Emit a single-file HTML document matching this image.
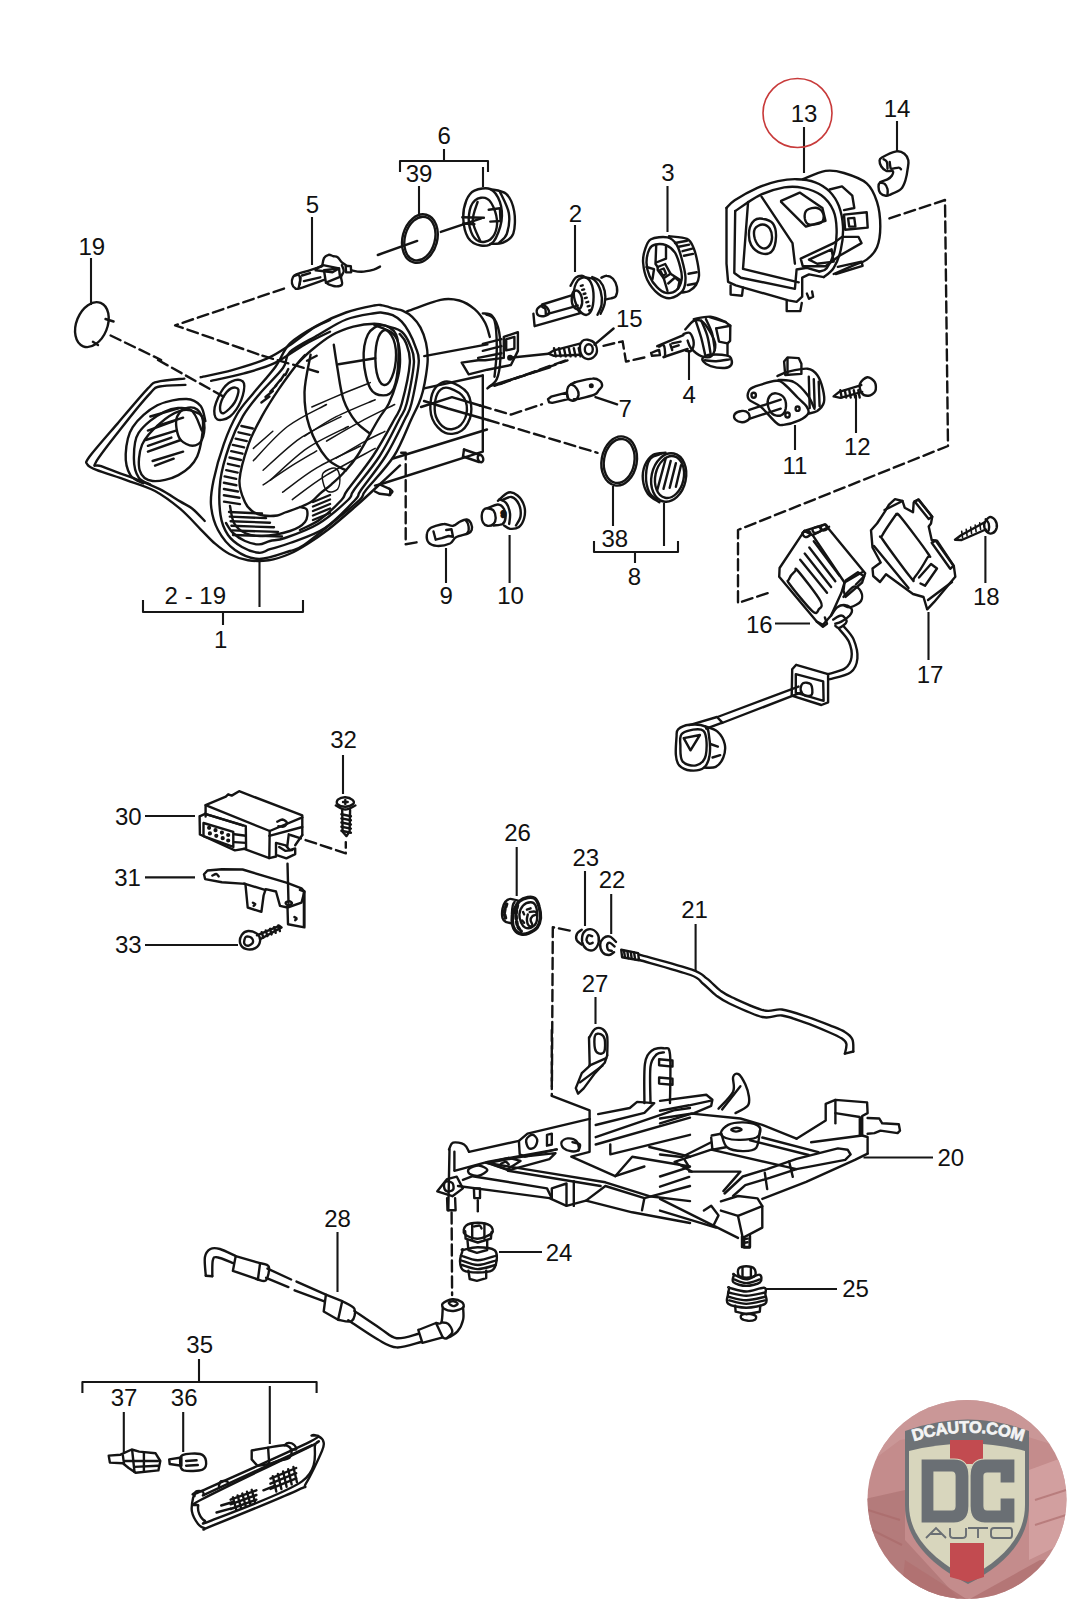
<!DOCTYPE html>
<html><head><meta charset="utf-8"><style>
html,body{margin:0;padding:0;background:#fff;width:1067px;height:1600px;overflow:hidden}
svg{display:block}
text{font-family:"Liberation Sans",sans-serif;font-size:24px;fill:#111}
</style></head><body>
<svg width="1067" height="1600" viewBox="0 0 1067 1600">
<g fill="none" stroke="#161616" stroke-width="2.1" stroke-linecap="butt" stroke-linejoin="round">

<path d="M91,258 V305"/>
<path d="M312,217 V265"/>
<path d="M444,149 V161 M400,172 V161 H488 V172 M483,167 V187"/>
<path d="M419,186 V214"/>
<path d="M575,225 V272"/>
<path d="M667.5,186 V232"/>
<path d="M804,127 V173"/>
<path d="M897,121 V151"/>
<path d="M689,350 V380"/>
<path d="M795,425 V450"/>
<path d="M856,395 V433"/>
<path d="M613,486 V526 M594,541 V552 H678 V541 M635,552 V563 M664,503 V546"/>
<path d="M775,623.5 H810"/>
<path d="M143,600 V612 H303 V600 M223,612 V625 M259.5,561 V607"/>
<path d="M446,548 V583"/>
<path d="M509.6,535 V583"/>
<path d="M985.4,536 V583"/>
<path d="M928.5,612 V660"/>
<path d="M343,755 V794"/>
<path d="M145,816 H195"/>
<path d="M145,877.4 H195"/>
<path d="M145,945 H238"/>
<path d="M516.7,847 V896"/>
<path d="M585,871 V926"/>
<path d="M611.2,894 V934"/>
<path d="M695.6,924 V971"/>
<path d="M595.5,997 V1024"/>
<path d="M863.5,1157.5 H933"/>
<path d="M499,1252 H542"/>
<path d="M766,1289 H837"/>
<path d="M337.5,1232 V1292"/>
<path d="M199,1359 V1382 M82.4,1393 V1382 H316.6 V1393 M123.8,1412 V1452 M183.2,1412 V1452 M269.8,1386 V1444"/>
</g>
<g text-anchor="middle">
<text x="91.8" y="254.5">19</text>
<text x="312.5" y="213">5</text>
<text x="444.2" y="144.3">6</text>
<text x="419" y="182">39</text>
<text x="575.5" y="221.5">2</text>
<text x="668" y="181">3</text>
<text x="804" y="122">13</text>
<text x="897" y="117">14</text>
<text x="629.3" y="327">15</text>
<text x="689.2" y="403">4</text>
<text x="625.3" y="416.6">7</text>
<text x="795" y="474">11</text>
<text x="857.3" y="455.4">12</text>
<text x="614.8" y="546.5">38</text>
<text x="634.5" y="585">8</text>
<text x="759.3" y="633">16</text>
<text x="195.3" y="604.4">2 - 19</text>
<text x="220.8" y="648">1</text>
<text x="446.2" y="604.4">9</text>
<text x="510.6" y="604.4">10</text>
<text x="986.3" y="605.4">18</text>
<text x="930" y="682.5">17</text>
<text x="343.5" y="747.5">32</text>
<text x="128.3" y="824.9">30</text>
<text x="127.5" y="885.9">31</text>
<text x="128.3" y="953.3">33</text>
<text x="517.5" y="841.2">26</text>
<text x="585.8" y="865.6">23</text>
<text x="612" y="888.1">22</text>
<text x="694.6" y="918">21</text>
<text x="595" y="992">27</text>
<text x="950.8" y="1166">20</text>
<text x="559.1" y="1261.4">24</text>
<text x="855.6" y="1297">25</text>
<text x="337.5" y="1227.4">28</text>
<text x="199.7" y="1353.4">35</text>
<text x="124" y="1405.7">37</text>
<text x="184.2" y="1405.7">36</text>
</g>
<g fill="none" stroke="#141414" stroke-width="2.4" stroke-linecap="round" stroke-linejoin="round">
<path d="M184.3,378.6 C179.8,379.1 163.4,380.2 157.3,381.8 C151.3,383.5 154.6,381.5 147.9,388.4 C141.3,395.4 127.3,412.1 117.5,423.6 C107.7,435 94.4,450 89.4,456.8 C84.4,463.7 86.3,462.4 87.5,464.6 C88.7,466.7 89.8,467.3 96.4,469.9 C103,472.6 117.1,476.7 126.9,480.3 C136.6,483.8 146.1,486.3 155,491 C163.8,495.8 172.4,502.3 180,508.7 C187.6,515 194.8,523.4 200.6,529.3 C206.5,535.1 210.2,539.6 215.1,543.7 C219.9,547.8 224,551.3 229.5,554 C235,556.8 241.5,559.2 248,560.2 C254.6,561.2 261.8,561.2 268.7,560.2 C275.5,559.2 282.7,556.8 289.3,554 C295.8,551.3 301.3,547.8 307.8,543.7 C314.4,539.6 320.5,535.5 328.5,529.3 C336.4,523.1 347,513.8 355.3,506.6 C363.5,499.4 370.5,492.9 377.9,486 C385.4,479.1 396.3,468.8 400,465.4"/>
<path d="M185.4,384.9 C181.1,385.2 165.5,385.2 159.7,386.5 C153.8,387.9 156.5,386.3 150.3,393.1 C144,399.8 131.2,415.5 122.2,427.1 C113.1,438.6 99.4,455.7 95.9,462.2 C92.4,468.7 95.2,463.7 101.1,466.2 C107,468.7 121.8,473.6 131.5,477.4 C141.3,481.3 151.6,485.2 159.7,489.2 C167.7,493.2 174.5,498.2 180,501.4 C185.5,504.7 188.2,505.4 192.4,508.7 C196.5,511.9 202.7,519 204.7,521"/>
<path d="M200.7,377.2 C205.9,376 221.2,373.3 232.3,370.1 C243.4,367 257.7,362.7 267.4,358.4 C277.2,354.1 283.1,349.5 290.9,344.4 C298.7,339.2 307.8,331.5 314.3,327.5 C320.8,323.4 327.4,321.2 330,320"/>
<path d="M211.2,380.9 C216.7,379.7 233.5,376.4 244,373.4 C254.6,370.4 264.3,367.9 274.5,363.1 C284.6,358.3 295.7,349.6 304.9,344.4 C314.2,339.1 325.8,333.8 330,331.7"/>
<path d="M244,383.3 C245,386.6 243.5,394.6 241.2,400.1 C238.9,405.7 234,413.3 230,416.5 C225.9,419.7 219.6,420.9 217.1,419.3 C214.5,417.8 213.7,412.3 214.7,407.2 C215.8,402 220,392.9 223.4,388.4 C226.8,383.9 231.7,381.1 235.1,380.2 C238.5,379.3 243,379.9 244,383.3 Z"/>
<path d="M238.4,389.6 C239,391.9 237,398.6 234.6,402.5 C232.3,406.4 226.5,411.8 224.1,413 C221.7,414.2 220.3,412 220.1,409.5 C219.9,407 221.1,401.3 222.9,397.8 C224.8,394.3 228.5,389.8 231.1,388.4 C233.7,387 237.8,387.2 238.4,389.6 Z"/>
<path d="M205.4,421.2 C204.6,418.7 203.8,409.7 200.7,406 C197.5,402.3 193.8,399.1 186.6,399 C179.4,398.8 166.3,400.6 157.3,405.3 C148.3,410 138,418.9 132.7,427.1 C127.4,435.2 126.1,446 125.7,454 C125.3,462 127.4,470.2 130.4,475.1 C133.3,480 141.1,481.9 143.3,483.3"/>
<path d="M201.8,430.6 C199.9,427.1 196.4,412.6 190.1,409.5 C183.9,406.4 172.9,407.9 164.3,411.8 C155.8,415.7 143.7,425.1 138.6,432.9 C133.5,440.7 133.9,451.3 133.9,458.7 C133.9,466.1 135.8,473.1 138.6,477.4 C141.3,481.7 148.3,483.3 150.3,484.5"/>
<path d="M203,421.2 C203.4,428.6 201.3,447.4 197.2,456.4 C193.1,465.3 185.8,471 178.4,475.1 C171,479.2 159.1,481.7 152.6,481 C146.2,480.2 141.5,476.5 139.7,470.4 C138,464.4 138.8,452.4 142.1,444.6 C145.4,436.8 153.2,429.2 159.7,423.6 C166.1,417.9 174.9,412.6 180.7,410.7 C186.6,408.7 191.1,410.1 194.8,411.8 C198.5,413.6 202.6,413.8 203,421.2 Z"/>
<path d="M177.2,416.5 C178.7,413.2 182.1,409.5 185.4,408.3 C188.8,407.2 194,407 197.2,409.5 C200.3,412 203.4,418.5 204.2,423.6 C205,428.6 203.8,436.2 201.8,440 C199.9,443.7 196,445.8 192.5,445.8 C189,445.8 183.4,442.9 180.7,440 C178.1,437 177.1,432.1 176.5,428.2 C175.9,424.3 175.8,419.8 177.2,416.5 Z"/>
<path d="M150.3,416.5 L178.4,408.3"/>
<path d="M147.9,430.6 L173.7,421.2"/>
<path d="M145.6,440 L176.1,430.6"/>
<path d="M147.9,451.7 L180.7,440"/>
<path d="M152.6,461 L183.1,451.7"/>
<path d="M155,465.7 L173.7,458.7"/>
<path d="M157.3,425.9 L183.1,417.7"/>
<path d="M147.9,445.8 L171.4,437.6"/>
<path d="M275.5,366.7 C269.3,375.1 259.4,385.8 253,393.7 C246.6,401.6 242.1,405.6 237.2,414 C232.3,422.4 227.6,433.3 223.7,444.3 C219.8,455.3 215.7,469.9 213.6,480 C211.5,490.1 210.3,496.7 211,505 C211.7,513.3 214,522.5 218,530 C222,537.5 228.2,545.2 235,550 C241.8,554.8 249.8,558.8 259,559 C268.2,559.2 282.5,553.3 290,551 C297.5,548.7 297,549.7 304,545 C311,540.3 322.8,530.5 332,523 C341.2,515.5 353.8,505.5 359.5,500 C365.2,494.5 360.2,497.3 366,490 C371.8,482.7 386.5,467.7 394,456 C401.5,444.3 406.9,428.7 411,420 C415.1,411.3 416.7,408.4 418.7,403.7 C420.7,398.9 421.6,396.2 422.8,391.5 C424,386.8 425.2,380.7 426,375.3 C426.8,369.9 427.7,364.4 427.7,359 C427.7,353.6 427.2,348.1 426,342.8 C424.8,337.5 422.7,331.7 420.4,327.4 C418.1,323.1 415.2,319.6 412.2,316.8 C409.2,314 405.5,312.1 402.5,310.7 C399.5,309.3 397.8,309.6 394.4,308.7 C391,307.8 385.6,305.9 382.2,305.4 C378.8,304.9 380,304.3 374,305.5 C368,306.7 355.3,309.2 346,312.5 C336.7,315.8 327.3,319.9 318,325 C308.7,330.1 297.1,336.4 290,343.4 C282.9,350.3 281.7,358.3 275.5,366.7 Z"/>
<path d="M283,368 C277.9,375 266.4,385.7 259.7,393.7 C253,401.7 247.9,407.6 242.9,416.2 C237.9,424.8 233.2,434.9 229.4,445.5 C225.7,456.1 221.9,468.4 220.4,480 C218.9,491.6 219.2,505.8 220.5,515 C221.8,524.2 224.4,529.7 228,535 C231.6,540.3 236.8,544 242,547 C247.2,550 254.3,552.4 259,552.8 C263.7,553.2 264.8,550.8 270,549.2 C275.2,547.6 280.8,546.5 290,543 C299.2,539.5 314.2,535.2 325,528 C335.8,520.8 349,506.3 355,500 C361,493.7 355.9,497.3 361,490 C366.1,482.7 378.4,467.7 385.7,456 C392.9,444.3 400.2,428.7 404.5,420 C408.8,411.3 409,413.2 411.4,403.7 C413.8,394.2 418,372.5 418.7,363 C419.4,353.5 417.1,352 415.5,346.9 C413.9,341.8 411.3,336.4 409,332.2 C406.7,328 404.4,324.5 401.7,321.7 C399,318.9 395.9,316.7 392.7,315.2 C389.4,313.7 385.2,313 382.2,312.7 C379.1,312.4 380.4,312.1 374.4,313.2 C368.4,314.3 355.6,315.9 346.2,319.5 C336.8,323.1 327.5,329.6 318.1,335 C308.7,340.4 295.9,346.4 290,351.9 C284.1,357.4 288.1,361 283,368 Z"/>
<path d="M226,523 C227.2,524.7 229.8,530 233,533 C236.2,536 240.7,539.1 245,541 C249.3,542.9 254.8,544.4 259,544.4 C263.2,544.4 265.7,542.1 270,541 C274.3,539.9 277,540.8 285,538 C293,535.2 307.5,530.3 318,524 C328.5,517.7 342,505.7 348,500 C354,494.3 348.7,497.3 354,490 C359.3,482.7 372.2,467.7 379.7,456 C387.2,444.3 394.5,428.7 399,420 C403.5,411.3 404.1,413.2 406.6,403.7 C409.1,394.2 413.3,372.8 413.9,363 C414.5,353.2 412,350.2 410,345 C408,339.8 405.6,335.1 402,332 C398.4,328.9 393,328 388.4,326.6 C383.8,325.2 380.2,323.7 374.4,323.7 C368.5,323.7 360.3,324.7 353.3,326.6 C346.3,328.5 339.2,331 332.2,335 C325.2,339 317.1,345.5 311.1,350.5 C305.1,355.5 298.5,362.6 296,365"/>
<path d="M300,530 C303.3,528.2 313.1,524.5 320,519.5 C326.9,514.5 336.9,504.9 341.5,500 C346.1,495.1 342.2,497.3 347.5,490 C352.8,482.7 365.2,467.7 373,456 C380.8,444.3 389.2,428.7 394,420 C398.8,411.3 399.1,413.2 401.7,403.7 C404.3,394.2 409.1,373.1 409.8,363 C410.5,352.9 407.7,347.8 406,343 C404.3,338.2 400.8,335.5 399.7,334"/>
<path d="M305,355 C303.6,356.6 301.2,358.8 296.8,364.5 C292.4,370.2 284.6,380.6 278.8,389.2 C273,397.8 267.1,407 262,416.2 C256.9,425.4 252.2,433.7 248.5,444.3 C244.8,454.9 240.1,470.4 239.5,480 C238.9,489.6 242.7,496.9 245,502.2 C247.3,507.5 250.3,509.8 253.4,512 C256.4,514.2 259.3,514.9 263.3,515.5 C267.3,516.1 273.7,516 277.3,515.5 C280.9,515 281,514 285,512.5 C289,511 297,508.4 301.5,506.5 C306,504.6 308.9,503.3 312,501.2 C315.1,499.1 316.8,496.4 320,493.6 C323.2,490.8 327.3,488.1 331.2,484.6 C335.1,481.1 339.3,477.6 343.6,472.8 C347.9,468 351.5,464.8 357.2,456 C362.9,447.2 372.8,428.7 378,420 C383.2,411.3 385.6,410.1 388.7,403.7 C391.8,397.3 394.9,388.6 396.8,381.8 C398.7,375 399.8,369.6 400,363 C400.2,356.4 399.5,347.1 398,342 C396.5,336.9 395.1,335 391.2,332.2 C387.3,329.4 377.2,326.2 374.4,325"/>
<path d="M230,506 C230.7,508.8 231.5,518.5 234,523 C236.5,527.5 240.3,530.8 245,533 C249.7,535.2 254.5,536.3 262,536 C269.5,535.7 282.8,533.3 290,531 C297.2,528.7 302.2,525.5 305,522 C307.8,518.5 307.8,512.5 307,510 C306.2,507.5 301.2,507.5 300,507"/>
<path d="M241.4,426 L252.8,428.5"/>
<path d="M238.5,432.3 L249.8,434.8"/>
<path d="M235.6,438.6 L246.8,441.1"/>
<path d="M232.8,444.9 L244.1,447.4"/>
<path d="M231.2,451.2 L242.5,453.7"/>
<path d="M229.5,457.5 L240.9,460"/>
<path d="M227.9,463.8 L239.3,466.3"/>
<path d="M226.2,470.1 L237.7,472.6"/>
<path d="M224.6,476.4 L236.2,478.9"/>
<path d="M223.9,482.7 L236.4,485.2"/>
<path d="M223.9,489 L238,491.5"/>
<path d="M223.9,495.3 L239.5,497.8"/>
<path d="M224,501.6 L240,504.1"/>
<path d="M285.4,375 L288.3,369"/>
<path d="M280.4,380.5 L284.3,374.5"/>
<path d="M275.4,386 L280.3,380"/>
<path d="M270.4,391.5 L276.3,385.5"/>
<path d="M265.5,397 L272.8,391"/>
<path d="M261.4,402.5 L269.4,396.5"/>
<path d="M229,512 L262,513.5"/>
<path d="M229.8,516.6 L266,518.1"/>
<path d="M230.6,521.2 L270,522.7"/>
<path d="M231.4,525.8 L274,527.3"/>
<path d="M232.2,530.4 L278,531.9"/>
<path d="M233,535 L282,536.5"/>
<path d="M313,502 L330,495"/>
<path d="M313,506.5 L330,499.5"/>
<path d="M313,511 L330,504"/>
<path d="M313,515.5 L330,508.5"/>
<path d="M313,520 L330,513"/>
<path d="M310.6,354.6 C309.6,360.9 304.7,380.4 304.5,392.3 C304.3,404.3 305.7,415.5 309.4,426.5 C313.1,437.4 320.4,450.8 326.5,458.1 C332.5,465.4 342.7,468.3 346,470.3"/>
<path d="M333.8,344.8 C334.4,348.7 335.8,358.8 337.4,368 C339,377.1 340.5,390.7 343.5,399.7 C346.6,408.6 351.2,415.9 355.7,421.6 C360.2,427.3 367.9,431.7 370.3,433.8"/>
<path d="M338.6,364.3 L375.2,358.2"/>
<path d="M307,360.7 L316.7,355.8"/>
<path d="M382,325.1 C386.7,325.1 393.3,328.7 396.1,334.5 C398.8,340.4 398.8,351.3 398.4,360.3 C398,369.3 396.3,382.5 393.7,388.4 C391.2,394.3 387.1,395.4 383.2,395.4 C379.3,395.4 373.5,394.3 370.3,388.4 C367,382.5 364.1,369.3 363.7,360.3 C363.3,351.3 364.9,340.4 367.9,334.5 C371,328.7 377.3,325.1 382,325.1 Z"/>
<path d="M386.7,330.3 C389.4,331.5 393.5,337.7 394.9,343.9 C396.3,350.1 396.1,360.7 394.9,367.3 C393.7,374 390.4,381.4 387.9,383.7 C385.3,386.1 381.7,385.3 379.7,381.4 C377.6,377.5 375.6,367.7 375.4,360.3 C375.2,352.9 376.6,341.9 378.5,336.9 C380.4,331.9 384,329.1 386.7,330.3 Z"/>
<path d="M406.6,311.6 C412.3,309.6 431.8,301.7 440.6,299.8 C449.4,298 453.7,299 459.3,300.5 C465,302.1 470.3,305.5 474.6,309.2 C478.9,312.9 482.6,318.2 485.1,322.8 C487.6,327.4 489,334.5 489.8,336.9"/>
<path d="M482.8,313.4 C484.3,313.8 489.4,312.6 492.1,315.8 C494.9,318.9 497.8,324.8 499.2,332.2 C500.5,339.6 500.7,352.5 500.3,360.3 C499.9,368.1 499,374.3 496.8,379 C494.7,383.7 489,386.8 487.4,388.4"/>
<path d="M486.3,314.6 C487.6,315.6 492.7,314.8 494.5,320.5 C496.2,326.1 496.8,339.2 496.8,348.6 C496.8,357.9 494.9,372 494.5,376.7"/>
<path d="M424.2,356.1 L487.4,344.4"/>
<path d="M424.2,388.4 L482.8,375.5"/>
<path d="M482.8,375.5 L482.8,451.7 L379.7,484.5"/>
<path d="M393,458.5 L487,429.5"/>
<path d="M489.8,386.1 L550,367.3"/>
<path d="M461.7,362.6 L478.1,360.3 L485.1,360.3 L503.8,357.9 L503.8,336.9 L517.9,332.2 L517.9,350.9 L510.9,365 L487.4,369.7 L468.7,374.3 L461.7,362.6 Z"/>
<path d="M506.2,339.2 L514.4,336.9 L514.4,348.6 L506.2,350.4 Z"/>
<path d="M482.8,343.9 L501.5,339.2"/>
<path d="M482.8,350.9 L501.5,346.2"/>
<path d="M478.1,357.9 L501.5,353.3"/>
<path d="M450,381.8 C454.8,383.2 464,387.7 467.5,393.1 C471,398.5 472,407.9 471,414.2 C470.1,420.4 466,427.5 461.7,430.6 C457.4,433.7 450.1,434.9 445.3,432.9 C440.4,431 434.7,424.7 432.4,418.9 C430,413 430.2,403.4 431.2,397.8 C432.2,392.1 435.1,387.5 438.2,384.9 C441.4,382.2 445.1,380.5 450,381.8 Z"/>
<path d="M450,388.4 C453.9,389.8 461.3,393.5 464,397.8 C466.7,402.1 467.3,409.3 466.4,414.2 C465.4,419.1 461.7,424.7 458.2,427.1 C454.6,429.4 449,430 445.3,428.2 C441.6,426.5 437.5,421.2 435.9,416.5 C434.3,411.8 434.6,404.6 435.4,400.1 C436.2,395.6 438.2,391.5 440.6,389.6 C443,387.6 446,387 450,388.4 Z"/>
<path d="M464,449.5 L480,455"/>
<path d="M463,456.5 L479,462"/>
<path d="M464,449.5 L463,456.5"/>
<path d="M375,485.6 L379.7,484.5 L390.2,489.2 L390.2,495 L379.7,493.8 L375,491.5"/>
<path d="M389,488.7 C389.6,489.2 392.5,490.4 392.5,491.5 C392.5,492.6 389.6,494.6 389,495.2"/>
<ellipse cx="480.5" cy="458.5" rx="2.6" ry="3.8" transform="rotate(-20 480.5 458.5)"/>
<g stroke-width="1.5"><path d="M253.4,460.6 C259,454.9 275.3,435.8 287.5,426.5 C299.7,417.1 320,408.2 326.5,404.5"/>
<path d="M263.1,470.3 C269.2,465 286.7,447.6 299.7,438.6 C312.6,429.7 334.2,420.4 341.1,416.7"/>
<path d="M270.4,480.1 C276.5,474.8 294,457.3 307,448.4 C320,439.5 341.5,430.1 348.4,426.5"/>
<path d="M263.1,484.9 C268,481.7 283.4,471.1 292.3,465.4 C301.3,459.8 312.6,453.3 316.7,450.8"/>
<path d="M282.6,492.2 C288.3,488.2 303.7,475.6 316.7,467.9 C329.7,460.2 353.3,449.6 360.6,446"/>
<path d="M292.3,499.6 C298,495.5 312.6,483.7 326.5,475.2 C340.3,466.7 367.1,452.9 375.2,448.4"/>
<path d="M304.5,436.2 C309.8,433 324.4,422.8 336.2,416.7 C348,410.6 368.7,402.5 375.2,399.7"/>
<path d="M326.5,441.1 C332.1,437.8 349.2,427.7 360.6,421.6 C371.9,415.5 389,407.4 394.7,404.5"/>
<path d="M336.2,458.1 C341.1,455.3 357.3,445.5 365.4,441.1 C373.6,436.6 381.7,433 384.9,431.3"/>
<path d="M311.8,407 C317.5,404.5 336.2,396.4 346,392.3 C355.7,388.3 366.3,384.2 370.3,382.6"/>
<path d="M253.4,448.4 L272.8,431.3"/>
<path d="M323.4,472.8 C325.5,470.4 332.4,467.3 335.1,468.1 C337.9,468.9 339.4,473.9 339.8,477.4 C340.2,481 339.4,486.8 337.5,489.2 C335.5,491.5 330.5,492.7 328.1,491.5 C325.7,490.3 323.7,485.3 323,482.1 C322.2,479 321.4,475.1 323.4,472.8 Z"/></g>
<path d="M105.5,319 L113.6,321.5"/>
<path d="M92.9,341.8 L98,345.1"/>
<path d="M377.8,255 L417.2,240.9"/>
<path d="M440.8,231.9 L481.3,218.4"/>
<path d="M474.4,190.7 C478.4,188.9 486.1,187.3 490.3,189.1 C494.6,191 498,196.6 499.9,201.9 C501.7,207.2 502.5,214.3 501.5,221 C500.4,227.6 496.9,237.6 493.5,241.7 C490,245.8 485,246.2 480.7,245.5 C476.5,244.8 470.9,242.2 468,237.6 C465.1,232.9 463.5,224 463.2,217.8 C463,211.6 464.6,204.8 466.4,200.3 C468.3,195.8 470.4,192.6 474.4,190.7 Z"/>
<path d="M475,200.3 C478,197.6 483.8,196.8 487.1,198.7 C490.5,200.5 493.5,206.6 495.1,211.4 C496.7,216.2 497.5,222.7 496.7,227.4 C495.9,232 493.2,237.1 490.3,239.5 C487.4,241.8 482.3,242.6 479.2,241.4 C476,240.2 472.9,236.6 471.2,232.1 C469.5,227.7 468.3,219.9 469,214.6 C469.6,209.3 472,202.9 475,200.3 Z"/>
<path d="M490.3,189.1 C493,189.9 502.3,190.2 506.2,193.9 C510.2,197.6 513,204.8 514.2,211.4 C515.4,218.1 515.1,228.5 513.3,233.7 C511.4,238.9 506.9,241 503.1,242.7 C499.2,244.4 492.4,243.7 490.3,243.9"/>
<path d="M499.9,191.7 C501.4,195.2 507.6,206 508.8,213 C510,220 508.5,228.8 506.9,233.7 C505.3,238.7 500.5,241.2 499.2,242.7"/>
<path d="M477.6,201.9 C476.8,205.1 472.4,214.5 472.8,221 C473.2,227.5 478.9,237.4 480.1,240.7"/>
<path d="M488.7,209.8 L499.9,208.2 L500.5,221 L490.3,221.6"/>
<path d="M462.3,217.2 L483.9,217.8"/>
<path d="M463.2,223.5 L474.4,224.2"/>
<path d="M321.2,266.7 C319.1,267.4 312.3,269.5 308.1,270.8 C303.9,272.1 298.5,273.4 295.9,274.5 C293.4,275.7 293.3,276.3 292.7,277.8 C292,279.3 291.6,281.7 292,283.4 C292.4,285.1 293.7,287.3 295,288.1 C296.3,288.9 294.8,289.7 299.7,288.3 C304.5,286.9 320,281.3 324,279.9"/>
<path d="M294.1,275.9 C294.8,275.8 297.7,274.2 298.7,275 C299.8,275.8 300.1,278.5 300.1,280.6 C300.1,282.7 299,286.5 298.7,287.6"/>
<path d="M302,275.5 L310,273.1"/>
<path d="M303.9,281.1 L320.3,277.3"/>
<path d="M300.6,277.3 L299.7,284.4"/>
<path d="M315.6,268.9 L323.1,265.1 L339,268.4 L332.5,272.2 L315.6,270.3"/>
<path d="M324,270.3 L339,268.4 L340,276.9 L325.9,282.7 L324,270.3"/>
<path d="M322.2,266.1 C322.5,264.8 323,260 324,258.1 C325.1,256.2 327.2,255.2 328.7,254.8 C330.3,254.5 331.9,255.9 333.4,256.2 C334.9,256.6 336.2,256.2 337.6,257.2 C339,258.2 340.5,261.1 341.9,262.3 C343.2,263.6 345,264.4 345.6,264.9"/>
<path d="M341.9,265.1 C342.2,266.2 343.9,269.3 343.7,271.2 C343.6,273.2 341.4,274.7 341.1,276.9 C340.8,279.1 342.9,282.8 342,284.4 C341.2,286 338.5,286.4 336.2,286.4 C334,286.4 330.4,285 328.7,284.4 C327.1,283.7 326.8,283 326.4,282.7"/>
<path d="M345.6,265.8 L350.8,266.1 L351.2,272.2 L346.1,272.4 Z"/>
<path d="M351.2,270.3 C352.9,270.6 357.8,271.9 361.5,271.8 C365.3,271.7 370.6,270.4 373.7,269.6 C376.8,268.7 379,267.1 380,266.6"/>
<path d="M533.4,313.6 L534.6,326.2 L580.3,313.1 L577.7,309.5"/>
<path d="M542.2,304.5 L571.5,295.3"/>
<path d="M547.8,313.8 L577.7,305.6"/>
<path d="M537,309.5 C537.7,307.9 540.5,305.7 542.2,305.4 C543.8,305.1 545.9,306.3 547,307.6 C548.1,309 549.4,312.2 548.9,313.6 C548.3,315 545.5,315.9 543.7,316.2 C541.9,316.4 539.2,316.3 538,315.2 C536.9,314 536.3,311.1 537,309.5 Z"/>
<path d="M542.2,306.9 C542.7,307.3 544.7,307.8 545.3,309 C545.9,310.2 545.7,313.3 545.8,314.1"/>
<path d="M572.6,293 C573.5,290.9 576.2,290.1 577.7,290.9 C579.3,291.8 581.3,295.4 581.9,298.1 C582.4,300.9 581.8,305.6 580.8,307.4 C579.9,309.2 577.6,309.7 576.2,309 C574.7,308.3 572.7,306 572.1,303.3 C571.5,300.6 571.6,295.1 572.6,293 Z"/>
<path d="M577.7,280.6 C579.8,277.9 583.6,276.9 586,277.7 C588.4,278.6 590.9,281.9 592.2,285.8 C593.4,289.7 593.7,296.8 593.4,301.2 C593.1,305.7 591.7,310.4 590.1,312.6 C588.5,314.8 586,315.3 583.9,314.4 C581.9,313.6 579.4,311 577.7,307.6 C576,304.2 573.8,298.5 573.8,294 C573.8,289.5 575.7,283.3 577.7,280.6 Z"/>
<path d="M580.8,285.8 L582.7,285.3"/>
<path d="M582.2,289.9 L584.1,289.4"/>
<path d="M583.6,294 L585.4,293.5"/>
<path d="M584.9,298.1 L586.8,297.6"/>
<path d="M586.3,302.3 L588.2,301.8"/>
<path d="M587.7,306.4 L589.6,305.9"/>
<path d="M589.1,310.5 L590.9,310"/>
<path d="M587,277.7 C588.2,278.1 592.2,277.6 594.4,279.8 C596.7,282 599.4,286.8 600.6,290.9 C601.8,295 602.2,300.3 601.6,304.3 C601.1,308.3 598.2,313.1 597.5,314.8"/>
<path d="M592.2,277 C593.4,277.6 597.5,278.5 599.6,280.8 C601.7,283.1 603.9,287.2 604.7,290.9 C605.6,294.7 605.4,299.5 604.7,303.3 C604.1,307.1 601.3,312.1 600.6,313.8"/>
<path d="M601.4,277.7 C602.3,277.4 604.9,275.5 606.8,275.7 C608.7,275.8 611.3,276.9 613,278.8 C614.7,280.7 616.4,284.1 616.9,287 C617.4,289.9 616.9,294.2 615.9,296.1 C614.9,298 612.6,297.8 610.9,298.4 C609.2,298.9 606.6,299.2 605.8,299.4"/>
<path d="M570.5,285.8 C571.4,284.4 573.8,279.4 575.7,277.7 C577.6,276 580.1,275.7 581.9,275.7 C583.6,275.7 585.3,277.4 586,277.7"/>
<path d="M651,239.2 C654.7,237.2 663.2,236.5 667.5,237.4 C671.7,238.2 674.1,240.9 676.5,244.5 C678.9,248.1 680.2,253.2 681.7,258.7 C683.2,264.2 685.4,272.1 685.5,277.5 C685.6,282.9 685,287.5 682.5,291 C680,294.4 674.5,297.6 670.5,298.1 C666.5,298.6 662.4,297 658.5,294 C654.6,290.9 649.8,285 647.2,279.7 C644.7,274.5 643.5,267.5 643.1,262.5 C642.7,257.5 643.7,253.6 645,249.7 C646.3,245.9 647.2,241.3 651,239.2 Z"/>
<path d="M655.5,244.5 C658.2,243.9 662.7,243.9 666,245.2 C669.2,246.6 672.6,249.1 675,252.7 C677.4,256.4 679.1,262.6 680.2,267 C681.4,271.4 682.4,275.1 681.7,279 C681.1,282.9 679.1,287.9 676.5,290.2 C673.9,292.5 669.2,293.4 666,292.9 C662.7,292.4 659.7,290 657,287.2 C654.2,284.4 651.2,280.1 649.5,276 C647.7,271.9 646.5,267 646.5,262.5 C646.5,258 648,252 649.5,249 C651,246 652.7,245.1 655.5,244.5 Z"/>
<path d="M669,236.2 C672,236.7 682.9,236.9 687,238.9 C691.1,240.9 692,244.3 693.7,248.2 C695.5,252.2 696.6,257.9 697.5,262.5 C698.4,267.1 699.2,272.2 699,276 C698.7,279.7 697.6,282.5 696,285 C694.4,287.5 691.5,289.7 689.2,291 C687,292.2 683.6,292.2 682.5,292.5"/>
<path d="M675,243 L687,240.7"/>
<path d="M678.7,246.7 L689.2,244.6"/>
<path d="M682.5,251.2 L692.2,248.6"/>
<path d="M684,255.7 L693,253.9"/>
<path d="M688.5,273.7 L696.7,272.2"/>
<path d="M687.7,285 L696,283.5"/>
<path d="M657.7,267 L665.2,264 L670.5,273.7 L663.7,278.2 L657.7,270 Z"/>
<path d="M660,270 L663.7,268.5 L666,273.7 L663,276 Z"/>
<path d="M656.2,245.2 L655.5,264 L657.7,267"/>
<path d="M666,246 L666,258.7 L656.2,262.5"/>
<path d="M646.5,267 L654,269.2 L652.5,279"/>
<path d="M670.5,273.7 L681,280.5"/>
<path d="M663.7,278.2 L667.5,291"/>
<path d="M668.2,283.5 L675,277.5 L679.5,281.2 L678,288.7"/>
<path d="M587.7,339.7 C589.9,340.1 593.4,341.4 594.9,343.6 C596.4,345.7 597.4,350 596.7,352.6 C596.1,355.1 593.3,357.9 591.1,358.6 C588.8,359.4 585.1,358.8 583.2,357.1 C581.3,355.3 580,350.7 579.9,348.1 C579.7,345.4 580.8,342.7 582.1,341.3 C583.4,339.9 585.6,339.4 587.7,339.7 Z"/>
<path d="M579.9,343.6 L554,350.3 L548.4,353.7 L554,355.9 L580.5,354.8"/>
<path d="M554,348.1 L555.8,356.4"/>
<path d="M558.9,348.1 L560.7,356.4"/>
<path d="M563.9,348.1 L565.7,356.4"/>
<path d="M568.8,348.1 L570.6,356.4"/>
<path d="M573.8,348.1 L575.6,356.4"/>
<path d="M578.7,348.1 L580.5,356.4"/>
<path d="M613.6,328.5 L594.5,344.7"/>
<path d="M510.1,357.7 L548.4,353.7"/>
<path d="M657.2,346.2 L683.4,335.2"/>
<path d="M663.7,357 L687.6,349"/>
<path d="M659.1,346.7 C659.8,346.5 662.7,343.8 663.7,345.3 C664.8,346.8 665.1,353.6 665.1,355.6 C665.1,357.6 664,356.9 663.7,357.1"/>
<path d="M651.1,353 L656.7,350.7 L659.1,350 L660,355.1 L652,355.8 L651.1,353"/>
<path d="M670.3,344.4 L672.2,350"/>
<path d="M672.2,343.4 L680.6,341.6"/>
<path d="M673.1,347.2 L678.7,345.3"/>
<path d="M683.4,334.1 C684.5,333.9 688.3,331.7 690,333.1 C691.7,334.5 693.6,339.5 693.7,342.5 C693.9,345.5 692.2,349.5 690.9,350.9 C689.7,352.3 687,350.9 686.2,350.9"/>
<path d="M685.3,329.4 C686.7,328 690.9,322.3 693.7,320.9 C696.5,319.6 699.5,319.7 702.2,321.4 C704.8,323.1 707.5,327.4 709.7,331.2 C711.9,335.1 715,340.2 715.3,344.4 C715.6,348.5 713.9,354.1 711.5,356.1 C709.2,358 704.7,357.4 701.2,356.1 C697.8,354.8 693.2,350.7 690.9,348.1 C688.7,345.5 688.2,341.9 687.6,340.6"/>
<path d="M693.7,319.1 C696.5,318.7 705.3,316.2 710.6,316.7 C715.9,317.2 723.1,321 725.6,321.9"/>
<path d="M696.1,321.9 C696.9,324.5 699.7,332.4 701.2,337.8 C702.7,343.2 704.4,351.5 705,354.2"/>
<path d="M701.2,320.5 C702.2,323 705.8,330.4 707.3,335.9 C708.9,341.5 710.1,350.8 710.6,353.7"/>
<path d="M705.9,319.1 C706.9,321.4 710.5,328 712,333.1 C713.5,338.3 714.4,347.2 714.8,350"/>
<path d="M709.7,317.2 L725.6,322.1 L730.3,325.8 L730.1,340.8 L727.5,343.4 L727.5,355.6"/>
<path d="M716.2,328.4 L730.3,325.8"/>
<path d="M716.2,328.4 L719,341.6 L727.5,343.4"/>
<path d="M703.1,357.5 C704.3,356.3 706.5,355 710.6,354.7 C714.7,354.4 724,354.9 727.5,355.6 C730.9,356.3 730.6,357.3 731.2,358.9 C731.8,360.5 732.3,363.5 731.2,365 C730.1,366.5 728.1,367.8 724.7,368 C721.2,368.2 714.1,367.2 710.6,366.1 C707.1,365.1 704.8,363.1 703.6,361.7 C702.3,360.3 701.9,358.7 703.1,357.5 Z"/>
<path d="M705,360.3 C706.9,360.5 712.2,361.4 716.2,361.2 C720.3,361.1 727.2,359.7 729.3,359.4"/>
<ellipse cx="91.9" cy="324.6" rx="15.5" ry="23.4" transform="rotate(22 91.9 324.6)"/>
<ellipse cx="419.9" cy="238.6" rx="17.3" ry="24.7" transform="rotate(15 419.9 238.6)"/>
<ellipse cx="419.9" cy="238.6" rx="15" ry="22.3" transform="rotate(15 419.9 238.6)"/>
<ellipse cx="588.8" cy="349.2" rx="4" ry="5" transform="rotate(0 588.8 349.2)"/>
<circle cx="510.1" cy="357.7" r="1.8" fill="#141414"/>
<g stroke-dasharray="11 5"><path d="M110.6,335.5 L161.2,360"/>
<path d="M158,360 L226,398"/>
<path d="M284,288.6 L175.1,325.3 L262.4,355.7"/>
<path d="M262.4,355.7 L318,372"/>
<path d="M603.5,345.8 L622.6,341.3 L626,361.6 L646.2,357.1"/>
<path d="M500,384 L567.5,360.4"/></g>
<path d="M726.5,208 C727.9,206.7 729.6,203.6 734.7,200.2 C739.9,196.8 750.2,191 757.4,187.8 C764.6,184.7 771.5,182.7 778,181.2 C784.6,179.8 790.4,179 796.6,179.2 C802.8,179.3 809.7,180.2 815.2,182.3 C820.7,184.3 825.6,187.6 829.6,191.5 C833.5,195.5 836.6,200.1 838.9,206 C841.1,211.8 842.6,219.4 843,226.6 C843.3,233.8 842.5,242.4 840.9,249.3 C839.4,256.2 836.6,263.2 833.7,267.8 C830.9,272.5 825.5,275.6 823.8,277.1"/>
<path d="M823.8,277.1 L809,274.4 L802.2,277.7 L802.2,296.7 L796.6,301.9 L788.4,300.4 L735.8,285.4 L728.1,281.9 L726.5,263.7 L726.5,208"/>
<path d="M735.2,211.1 C739.2,208.5 751.3,199.2 759.5,195.3 C767.7,191.3 777,188.7 784.2,187.4 C791.4,186.2 796.6,186.5 802.8,187.8 C809,189.1 816.3,191.5 821.3,195.3 C826.4,199 830.8,204.9 833.3,210.5 C835.8,216.2 836.4,222.3 836.6,229.1 C836.8,235.9 836.2,244.8 834.5,251.3 C832.9,257.9 829.2,264.9 826.7,268.2 C824.2,271.6 820.5,271 819.3,271.5"/>
<path d="M819.3,271.5 L806.9,267.8 L796.6,269.5 L794.9,288.9 L740.9,277.7 L734.3,273 L735.2,211.1"/>
<path d="M802.8,179.2 C806.6,177.8 818.6,172 825.5,170.9 C832.3,169.9 837.1,170.9 844,173 C850.9,175.1 861.2,178.5 866.7,183.3 C872.2,188.1 874.7,194.6 877,201.9 C879.3,209.1 880.3,219 880.3,226.6 C880.3,234.2 879.3,241.7 877,247.2 C874.7,252.7 870.8,256.5 866.7,259.6 C862.6,262.7 857.8,263.4 852.3,265.8 C846.8,268.2 836.8,272.6 833.7,274"/>
<path d="M837.8,266.8 L861.5,261.6 L862.6,265.8 L835.8,274"/>
<path d="M730.6,285.4 L730.6,294.6 L742,295.7 L743,287.4"/>
<path d="M786.7,300.8 L786.7,311.1 L800.3,311.1 L801.8,302.9"/>
<path d="M806.9,293.6 L809,298.8 L813.1,296.7 L812.1,291.5"/>
<path d="M762.6,218.8 C765.7,219.3 770.7,220.5 772.9,223.5 C775.1,226.5 776.2,232.3 776,236.9 C775.8,241.5 774.3,248.6 771.9,251.3 C769.5,254.1 765,254.4 761.5,253.4 C758.1,252.4 753.3,248.9 751.2,245.2 C749.2,241.4 748.7,234.8 749.2,230.7 C749.7,226.6 752.1,222.4 754.3,220.4 C756.6,218.4 759.5,218.2 762.6,218.8 Z"/>
<path d="M762.6,224.5 C765.1,224.5 768.2,226.3 769.8,228.7 C771.3,231.1 772.2,235.9 771.9,239 C771.5,242.1 769.6,245.8 767.7,247.2 C765.8,248.6 762.6,248.6 760.5,247.2 C758.4,245.8 755.9,242.1 754.9,239 C754,235.9 753.7,231.1 754.9,228.7 C756.2,226.3 760.1,224.5 762.6,224.5 Z"/>
<path d="M748.1,201.9 L743,268.9 L798.7,282.3"/>
<path d="M761.5,196.7 L792.5,243.1 L794.9,263.7"/>
<path d="M781.1,200.8 L799.7,192.6 L822.4,208 L825.5,220.8 L805.9,226.6 L781.1,201.9 Z"/>
<path d="M806.9,210.1 C809,208.4 814.5,207.4 817.2,208 C820,208.7 822.7,211.8 823.4,214.2 C824.1,216.6 823.7,220.8 821.3,222.5 C818.9,224.2 811.7,225.2 809,224.5 C806.2,223.8 805.2,220.8 804.8,218.4 C804.5,215.9 804.8,211.8 806.9,210.1 Z"/>
<path d="M829.6,189.5 L842,186.4 L852.3,195.7 L854.3,208 L844,210.1"/>
<path d="M844,214.6 L866.7,212.2 L867.7,227.6 L845.1,229.7 Z"/>
<path d="M848.1,218.4 L854.3,217.9 L855.4,226.6 L849.2,226.6 Z"/>
<path d="M800.7,258.6 L833.7,243.1 L842,236.9 L858.5,236.9 L861.5,243.1 L839.9,255.5 L825.5,266.2 L802.8,266.2 Z"/>
<path d="M809,259.6 L831.6,249.3 L833.7,261.6 L817.2,263.7 Z"/>
<path d="M881.9,157.5 C884.7,155.9 892.7,152.1 896.5,151.4 C900.2,150.8 902.4,152.2 904.4,153.7 C906.3,155.1 907.7,157.8 908.3,160.3 C908.9,162.8 908.2,165.5 907.7,168.7 C907.3,172 906.6,176.6 905.5,180 C904.4,183.4 903.5,186.5 901,189 C898.5,191.4 892.8,193.5 890.3,194.6 C887.8,195.7 887.5,196 885.8,195.7 C884.1,195.4 881.4,194.4 880.2,192.9 C879,191.4 878.5,188.5 878.5,186.7 C878.5,185 878.7,183.5 880.2,182.2 C881.7,181 885.5,180.5 887.5,179.4 C889.5,178.3 891.1,176.9 892,175.5 C892.8,174.1 893.5,171.7 892.6,171 C891.6,170.2 888.2,171.7 886.4,171 C884.5,170.2 882.4,168.2 881.3,166.5 C880.2,164.8 879.5,162.4 879.6,160.9 C879.7,159.4 879.1,159.1 881.9,157.5 Z"/>
<path d="M883.6,159.2 C884.1,159.6 886.3,160.4 886.9,162 C887.6,163.6 887.4,167.6 887.5,168.7"/>
<path d="M889.7,162 C889.8,162.7 890,165.4 890.3,166.5 C890.6,167.6 890,168.6 891.4,168.7 C892.8,168.9 897.1,167.5 898.7,167.6 C900.3,167.7 900.6,169 901,169.3"/>
<path d="M880.2,182.8 C880.9,183 883.5,182.9 884.7,183.9 C885.9,185 887,187.2 887.5,189 C888,190.8 887.5,193.7 887.5,194.6"/>
<path d="M749.2,390.3 C750.4,388.1 751.5,387.8 756,386.2 C760.5,384.7 771.5,381.2 776.2,380.8 C780.9,380.5 780.5,381.2 784.1,384 C787.7,386.8 793.9,393.7 797.6,397.5 C801.3,401.2 804.8,403.8 806.6,406.5 C808.4,409.2 809.4,411.3 808.2,413.7 C806.9,416 803.3,418.5 799.2,420.4 C795.1,422.3 787.3,424.5 783.4,424.9 C779.6,425.3 780,425.7 776.2,422.7 C772.5,419.7 765.5,410.8 760.9,406.9 C756.4,403 750.7,402.1 748.8,399.3 C746.8,396.5 748,392.5 749.2,390.3 Z"/>
<path d="M777.4,376.1 C779.2,375.4 783.5,372.8 788.6,371.6 C793.7,370.4 803,368.1 807.7,368.7 C812.5,369.3 814.7,371.6 817.2,375 C819.7,378.4 821.7,384.4 822.8,388.9 C823.9,393.5 824.9,398.8 823.9,402.4 C823,406.1 819.8,409.1 817.2,411 C814.5,412.8 809.7,413.2 808.2,413.7"/>
<path d="M778.5,379.9 C781.1,380.3 789.4,379.6 794.2,382.2 C799.1,384.7 804.3,390.8 807.7,395.2 C811.1,399.7 813.3,406.5 814.5,408.7"/>
<path d="M784.1,361.5 L787.5,357.4 L798.7,358.1 L801.4,363.7 L801.4,373.9 L785.2,375 Z"/>
<path d="M787.5,358.1 L787.5,373.9"/>
<path d="M808.8,376.7 L809.7,408.1"/>
<path d="M813.8,379.1 L814.7,407.1"/>
<path d="M818.7,381.6 L819.6,406.1"/>
<path d="M776.2,393.4 C778.6,393.8 782.5,395.4 784.1,397.9 C785.7,400.5 786.2,405.8 785.7,408.7 C785.1,411.6 783,414.6 780.7,415.5 C778.5,416.3 774.4,415.5 772.2,413.7 C770,411.8 768.1,407.2 767.7,404.2 C767.3,401.2 768.5,397.5 769.9,395.7 C771.4,393.9 773.9,393.1 776.2,393.4 Z"/>
<path d="M749.2,409.9 L780.7,399.7"/>
<path d="M749.2,418.8 L780.7,408.7"/>
<path d="M741.4,411 C743.6,410.7 746.8,411.5 748.1,412.8 C749.4,414.1 750.2,417.3 749.2,418.8 C748.3,420.4 744.8,422.1 742.5,422.2 C740.2,422.3 736.6,420.8 735.3,419.5 C734,418.2 733.6,415.8 734.6,414.3 C735.6,412.9 739.1,411.2 741.4,411 Z"/>
<path d="M867.3,377.2 C869.8,376.9 873.4,379.9 874.8,382.2 C876.1,384.5 876.3,388.9 875.2,391.2 C874.2,393.4 870.7,395.4 868.5,395.7 C866.2,396 863.1,394.9 861.7,393 C860.3,391 859,386.6 859.9,384 C860.8,381.4 864.9,377.5 867.3,377.2 Z"/>
<path d="M861.3,385.1 L839.2,391.9 L833.6,396.4 L840.3,397.9 L862.2,391.9"/>
<path d="M840.3,390.3 L841.7,397.5"/>
<path d="M844.8,390.3 L846.2,397.5"/>
<path d="M849.3,390.3 L850.7,397.5"/>
<path d="M853.8,390.3 L855.2,397.5"/>
<path d="M858.3,390.3 L859.7,397.5"/>
<path d="M574.8,382.3 C577.8,381.6 588.2,378.8 592.4,378.6 C596.5,378.3 598,379.4 599.6,380.6 C601.2,381.8 602.2,384.1 602.1,385.8 C601.9,387.4 599.8,389 598.6,390.5 C597.3,392 597.7,393.3 594.4,394.6 C591.2,396 582.4,398 579,398.8 C575.5,399.5 574.7,399.1 573.8,399.2"/>
<path d="M571.8,384.7 C573.2,385.1 575.8,387.1 576.9,388.9 C578,390.6 578.9,393.1 578.6,395.1 C578.2,397 576.5,399.7 574.8,400.4 C573.2,401.1 570,400.4 568.7,399.2 C567.4,397.9 567.1,395.1 567,393 C566.9,390.9 567.5,388.2 568.2,386.8 C569,385.4 570.3,384.4 571.8,384.7 Z"/>
<path d="M574.8,382.3 L570.7,384.3"/>
<path d="M548,399.2 L551.1,396.7 L566.6,392.6 L568.2,399.2 L552.2,402.9 L549.1,402.3 Z"/>
<path d="M595.5,397.1 L617.1,404.3"/>
<path d="M665.6,452.8 C663.5,453.1 656.6,452.8 653.2,454.8 C649.8,456.9 646.7,461 644.9,465.2 C643.2,469.3 642.4,474.8 642.9,479.6 C643.4,484.4 645.3,490.2 648,494 C650.8,497.8 657.5,500.9 659.4,502.3"/>
<path d="M661.4,453.8 C659.6,454.7 652.7,455.4 650.1,459 C647.5,462.6 646.2,470 646,475.5 C645.8,481 647.2,487.8 649.1,492 C651,496.1 655.9,498.8 657.3,500.2"/>
<path d="M657.3,489.9 L665.6,459"/>
<path d="M663.5,488.9 L670.7,461"/>
<path d="M669.7,487.8 L675.9,463.1"/>
<path d="M675.9,486.8 L681,465.2"/>
<path d="M435,526.2 C437.3,525.5 441,524 444,524 C447,523.9 450.2,526.2 453,525.8 C455.7,525.3 458.2,522.3 460.5,521.3 C462.8,520.2 465,519.2 466.8,519.5 C468.5,519.8 470.1,521.5 471,523.2 C471.8,525 472.2,528.3 471.7,530 C471.3,531.6 470.9,532.1 468.3,533.3 C465.7,534.5 459,535.5 456,537.2 C452.9,538.9 453.2,542 450,543.5 C446.8,544.9 440.4,546.1 436.8,545.9 C433.2,545.7 430,544.3 428.4,542.3 C426.7,540.3 426.6,536.2 426.9,533.9 C427.1,531.6 428.5,529.7 429.9,528.5 C431.2,527.2 432.6,527 435,526.2 Z"/>
<path d="M465.7,520.2 C466.1,520.8 467.5,522.3 468,524 C468.5,525.6 468.9,528.4 468.7,530 C468.6,531.5 467.5,532.7 467.2,533.3"/>
<path d="M433.5,531.5 L435.7,539.7 L441.7,538.2 L448.5,536 L453,536.7 L451.5,529.2 L446.2,530"/>
<path d="M487.5,508.2 C489.1,508.4 492.1,508.9 493.5,510.5 C494.8,512.1 495.7,515.7 495.7,518 C495.7,520.2 494.8,522.7 493.5,524 C492.1,525.3 489.2,526 487.5,525.8 C485.7,525.5 483.9,524.3 483,522.5 C482,520.7 481.6,517.1 481.8,515 C481.9,512.9 482.8,510.9 483.7,509.7 C484.7,508.6 485.8,508.1 487.5,508.2 Z"/>
<path d="M487.5,508.2 C489.2,507.6 495.2,504.4 498,504.5 C500.7,504.6 502.7,506.7 504,509 C505.2,511.2 505.7,515.5 505.5,518 C505.2,520.5 504.5,522.7 502.5,524 C500.5,525.2 495,525.2 493.5,525.5"/>
<path d="M498,500.7 C499.7,499.4 505.2,493.4 508.5,492.5 C511.7,491.6 514.8,493.2 517.5,495.5 C520.1,497.7 523.1,502.2 524.2,506 C525.3,509.7 525.1,514.5 524.2,518 C523.3,521.5 521.3,525.2 519,527 C516.6,528.8 512.5,529 510,528.8 C507.5,528.5 505,526 504,525.5"/>
<path d="M502.5,500 C504,499.5 508.7,496.2 511.5,497 C514.2,497.7 517.5,501.2 519,504.5 C520.5,507.7 521,513 520.5,516.5 C520,520 516.7,524 516,525.5"/>
<path d="M499.5,499.2 C500.6,499.9 504.5,500.6 506.2,503 C508,505.4 509.5,510 510,513.5 C510.5,517 509.3,522.2 509.2,524"/>
<path d="M421,407 L452,397.2 L480,405.5"/>
<path d="M424,401 L448,408.5 L488,420"/>
<ellipse cx="753.7" cy="395.2" rx="2.2" ry="2.5" transform="rotate(0 753.7 395.2)"/>
<ellipse cx="787.5" cy="415" rx="2.2" ry="2.5" transform="rotate(0 787.5 415)"/>
<ellipse cx="797.6" cy="408.7" rx="2" ry="2.2" transform="rotate(0 797.6 408.7)"/>
<circle cx="591.3" cy="385.8" r="1.3" fill="#141414"/>
<ellipse cx="619.2" cy="461" rx="17.6" ry="24.8" transform="rotate(10 619.2 461)"/>
<ellipse cx="619.2" cy="461" rx="15.2" ry="22.2" transform="rotate(10 619.2 461)"/>
<ellipse cx="668.7" cy="477.5" rx="17.2" ry="24.5" transform="rotate(12 668.7 477.5)"/>
<ellipse cx="669.5" cy="477" rx="14.2" ry="21.2" transform="rotate(12 669.5 477)"/>
<text x="501" y="517.2" style="font-size:9px">9</text>
<g stroke-dasharray="11 5"><path d="M889.4,218.4 L945,200 L948,446 L738,530 L738,603 L768,593"/>
<path d="M401.2,452.7 L405.7,452.7 L405.7,544.2 L418.5,542"/>
<path d="M480,405.5 L511,414.6 L541.9,404.3"/>
<path d="M488,420 L597.5,452.8"/>
<path d="M494.4,385.8 L566.6,360"/></g>
<path d="M804.3,530.9 L824.9,524.3 L865.2,573.2 L862.1,582.5 L845.6,596.9 L843.5,590.7 L844.5,582.5"/>
<path d="M804.3,530.9 L812.6,535.1 L844.5,582.5"/>
<path d="M804.3,530.9 L779.6,568 L779.2,576.7 L816.7,621.6 L822.9,624.7 L831.1,615.5 L841.4,592.8 L844.5,582.5"/>
<path d="M812.6,535.1 L829.1,526.8"/>
<path d="M844.5,582.5 L862.1,572.2"/>
<path d="M795.1,571.1 C793.5,572.5 789.7,577.1 788.9,579.4 C788,581.6 785.9,579.2 789.9,584.5 C793.8,589.9 807.8,607.2 812.6,611.3 C817.4,615.5 817.5,611 818.8,609.3 C820.1,607.6 823.8,607.4 820.4,601 C817,594.7 802.4,576.1 798.1,571.1 C793.9,566.2 796.6,569.8 795.1,571.1 Z"/>
<path d="M800.2,559.8 L827,592.8"/>
<path d="M804.7,553.6 L831.1,587"/>
<path d="M809.3,547.4 L835.3,581.2"/>
<path d="M813.8,541.2 L839.4,575.5"/>
<path d="M802.3,533 C802.8,532 807.1,530.7 808.5,530.9 C809.8,531.2 811,533.6 810.5,534.6 C810,535.7 806.7,537.4 805.4,537.1 C804,536.8 801.8,534 802.3,533 Z"/>
<path d="M812.6,528.9 C813.3,527.8 817.4,526.5 818.8,526.8 C820.1,527.1 821.5,529.9 820.8,530.9 C820.1,532 816,533.3 814.6,533 C813.3,532.6 811.9,529.9 812.6,528.9 Z"/>
<path d="M820.8,526.4 C821.3,525.4 824.9,524.3 826,524.7 C827,525.2 827.5,527.9 827,528.9 C826.5,529.8 823.9,530.9 822.9,530.5 C821.9,530.1 820.3,527.4 820.8,526.4 Z"/>
<path d="M816.7,621.6 L822.9,626.8 L827,623.7 L824.9,617.5"/>
<path d="M843.5,596.9 C845.2,595.2 850.9,587.5 853.8,586.6 C856.7,585.7 859.8,589.3 861,591.8 C862.2,594.2 862.7,598.5 861,601 C859.3,603.6 853.6,606.5 850.7,607.2 C847.8,607.9 844.7,605.5 843.5,605.2"/>
<path d="M831.1,615.5 C832.2,614.1 834.9,608.9 837.3,607.2 C839.7,605.5 843.2,604.8 845.6,605.2 C848,605.5 851.1,607.6 851.8,609.3 C852.4,611 851.4,613.4 849.7,615.5 C848,617.5 843.8,620.3 841.4,621.6 C839,623 836.3,623.4 835.3,623.7"/>
<path d="M845.6,580.4 L857.9,572.2 L864.1,576.3 L855.9,584.5"/>
<path d="M833.2,619.6 C834.6,618.9 839.2,615.1 841.4,615.5 C843.7,615.8 846.9,619.6 846.6,621.6 C846.3,623.7 841.3,627.1 839.4,627.8 C837.5,628.5 835.9,626.1 835.3,625.8"/>
<path d="M843.9,626.5 C845.5,628.7 851.3,634 853.6,639.4 C855.8,644.7 857.9,653 857.4,658.5 C856.9,664 855.2,669 850.6,672.4 C846.1,675.9 833.4,678.1 829.9,679.2"/>
<path d="M838.9,628.8 C840.6,630.9 846.7,636.9 848.8,641.6 C850.9,646.4 852.2,652.9 851.5,657.4 C850.9,661.9 848.8,665.8 844.8,668.6 C840.8,671.4 830.5,673.3 827.7,674.2"/>
<path d="M792.2,669.3 L796.2,664.8 L828.1,674.2 L828.1,702.3 L821.4,705 L791.7,695.6 Z"/>
<path d="M795.8,674.2 L823.2,681.4 L823.6,700.8 L795.8,692.7 Z"/>
<path d="M803,683.2 C804.6,682.3 809.3,682.5 810.8,684.3 C812.3,686.2 812.9,692.6 811.9,694.5 C811,696.3 807.1,696.3 805.2,695.6 C803.3,694.8 801.1,692 800.7,690 C800.3,687.9 801.3,684.2 803,683.2 Z"/>
<path d="M798.5,686.6 L717.5,717"/>
<path d="M800.7,692.7 L722,723"/>
<path d="M678.1,729.3 C680.3,727.3 684.9,725.3 689.4,724.8 C693.9,724.3 701.8,724.7 705.1,726.4 C708.4,728.1 708.2,730.2 708.9,735 C709.7,739.8 710.4,749.8 709.6,755.2 C708.8,760.6 707.2,765 704,767.6 C700.8,770.1 694.6,770.9 690.5,770.5 C686.4,770.1 681.7,767.9 679.2,765.3 C676.8,762.8 676.3,759.9 675.9,755.2 C675.4,750.5 676.2,741.5 676.5,737.2 C676.9,732.9 676,731.4 678.1,729.3 Z"/>
<path d="M682.6,733.2 C686.5,730.6 699.7,727.2 703.5,730.9 C707.4,734.6 707,749.5 705.8,755.2 C704.5,760.9 700,764.3 696.1,765.3 C692.2,766.4 685.2,764.7 682.6,761.5 C680,758.3 680.4,750.9 680.4,746.2 C680.4,741.5 678.8,735.7 682.6,733.2 Z"/>
<path d="M705.1,726.4 C707.2,727.3 714.2,728.7 717.5,731.6 C720.7,734.5 723.7,739.6 724.7,744 C725.7,748.3 724.8,753.6 723.3,757.5 C721.8,761.3 718.9,765.2 715.7,766.9 C712.5,768.6 705.9,767.5 704,767.6"/>
<path d="M710.3,744 L717.9,746.7"/>
<path d="M712.5,757.5 L720.2,755.2"/>
<path d="M683.7,738.1 L699.9,735 L690.5,750.3 Z"/>
<path d="M689.4,725.1 L717,717 L722.4,722.6 L706.2,728.7"/>
<path d="M895,499.2 L902.5,501 L904.7,507.7 L913,512.2 L913.7,502.5 L918.2,499.5 L932.2,516.7 L931,523.5 L928.7,526.5 L931.7,540 L937,540.7 L953.8,565.8 L955.3,576.7 L934,602.2 L927.2,609.3 L923.5,597 L913,594 L886,574.2 L880,582 L873.2,576 L872.5,568.5 L880.7,562.5 L872.5,547.5 L871,530.2 L877,523.5 L884.5,512.2 L889,504.7 L895,499.2"/>
<path d="M896.5,514.8 C897.5,515 895.7,511 901,517.5 C906.2,523.9 923.6,546.7 928,553.5 C932.3,560.2 929.5,554 927.2,558 C925,562 917.2,574.2 914.5,577.5 C911.7,580.7 916,583.7 910.7,577.5 C905.5,571.2 887.7,547 883,540 C878.2,533 880.2,539.5 882.2,535.5 C884.2,531.5 892.6,519.4 895,516 C897.4,512.5 895.5,514.5 896.5,514.8 Z"/>
<path d="M931.7,542.7 L935.8,540.7 L953.5,565.8 L950.2,568.8 Z"/>
<path d="M914.5,501.3 L918.7,499.5 L932.2,516.7 L928.7,519 Z"/>
<path d="M919,577.5 L931,564 L937,568.5 L925,585.7 L920.5,583.5"/>
<path d="M928,600 L952,582"/>
<path d="M874,546 L908.5,588"/>
<path d="M884.5,510 L902.5,501"/>
<path d="M989.5,517.2 C991.3,516.5 994,518.4 995.2,520.2 C996.4,521.9 997.1,525.5 996.7,527.7 C996.2,529.9 994.1,532.6 992.5,533.2 C990.8,533.9 988.1,533.2 986.8,531.7 C985.4,530.2 983.8,526.7 984.2,524.2 C984.7,521.8 987.6,517.9 989.5,517.2 Z"/>
<path d="M985.7,519.3 C986.2,520 988.2,521.7 988.7,523.5 C989.2,525.3 989,528.9 988.7,530.2 C988.4,531.6 987.1,531.5 986.8,531.7"/>
<path d="M984.7,522.3 L961,535.2 L955,539.7 L961.7,540 L985.7,529.5"/>
<path d="M979.7,522.9 L980.6,529.5" stroke-width="1.6"/>
<path d="M975.2,525 L976.1,531.6" stroke-width="1.6"/>
<path d="M970.7,527.1 L971.6,533.7" stroke-width="1.6"/>
<path d="M966.2,529.2 L967.1,535.8" stroke-width="1.6"/>
<path d="M961.7,531.3 L962.6,537.9" stroke-width="1.6"/>
<circle cx="797.5" cy="113" r="34.5" stroke="#c83a3a" stroke-width="1.6"/>
<g stroke-dasharray="11 5"></g>
<path d="M205.6,816.6 L205.6,805.2 L225.8,796.7 L228.2,794.3 L231.7,795.6 L239.1,791.2 L302.3,815.4 L302.3,835"/>
<path d="M205.6,805.2 L269.7,831 L302.3,817.4"/>
<path d="M269.7,831 L269.3,858.1 L244.2,848.8"/>
<path d="M269.3,858.1 L276,856.5"/>
<path d="M295.2,845.3 L302.3,835"/>
<path d="M199.6,816.3 L205.1,813.8 L245.8,826.2 L246.1,848.5 L234.9,850.4 L199.9,834.5 L199.6,816.3"/>
<path d="M203.5,823 L233.3,831.9 L233.3,846.9 L203.5,836.1 L203.5,823"/>
<path d="M205.1,813.8 L242.6,825.4"/>
<path d="M234.6,834.2 L245.8,835.8"/>
<path d="M234.6,842.1 L245.8,842.9"/>
<path d="M276,842.9 L285.6,845.3 L289.6,850.1 L295.2,848.5 L295.2,854.1 L286.4,858.4 L276,854.9 L276,842.9"/>
<path d="M288.8,834.2 L287.2,846.9"/>
<path d="M279.2,846.9 L285.6,850.9 L292,850.1"/>
<path d="M277.3,821.7 C278.2,821.4 280.8,819.4 282.4,819.5 C284,819.7 286.6,821.5 286.9,822.7 C287.1,823.9 285.4,825.9 284,826.5 C282.6,827.1 279.4,826.3 278.4,826.2"/>
<path d="M269.3,835.8 L302.3,827"/>
<path d="M345.3,797.2 C347.7,797.3 351.2,798.8 352.5,799.9 C353.8,801 354.5,802.8 353.3,803.9 C352.1,805 348,806.7 345.3,806.8 C342.7,806.8 338.6,805.4 337.4,804.2 C336.2,803 336.8,800.6 338.2,799.4 C339.5,798.3 343,797.1 345.3,797.2 Z"/>
<path d="M335.8,805.5 C337.4,806.2 342.1,809.5 345.3,809.5 C348.6,809.5 353.7,806.2 355.4,805.5"/>
<path d="M342.2,810.3 L342.6,831.8 L346.5,836.1 L349.6,831.3 L350.1,810"/>
<path d="M341.4,814.3 L350.9,816.2"/>
<path d="M341.4,818.4 L350.9,820.3"/>
<path d="M341.4,822.5 L350.9,824.5"/>
<path d="M341.4,826.7 L350.9,828.6"/>
<path d="M341.4,830.8 L350.9,832.7"/>
<path d="M343,802 L347.7,802"/>
<path d="M345.3,799.9 L345.3,803.9"/>
<path d="M204,874.3 L207.5,870.5 L221.9,869.2 L242.6,869.5 L287.2,882.8 L301.5,888.3 L304.4,891.5 L304.4,927.4 L288,924.2 L287.5,907.5 L280,905.9 L276,891.5 L265.7,889.1 L263.6,895.5 L261.4,911.9 L247.7,907.5 L245.4,883.9 L221.9,882.3 L205.1,879.1 L204,874.3"/>
<path d="M244.2,883.6 L264.9,889.9"/>
<path d="M287.5,907.5 L301.5,902.7 L304.4,891.5"/>
<path d="M212.3,875.6 C213,875.3 215.2,873.9 216.3,874 C217.4,874.1 218.3,876 218.7,876.4"/>
<path d="M252.9,902.7 C253.3,902.9 255.2,903.7 255.3,904.3 C255.5,904.8 254,905.6 253.7,905.9"/>
<path d="M294.4,917 C294.8,917.3 296.6,918.1 296.7,918.6 C296.9,919.1 295.4,919.9 295.2,920.2"/>
<path d="M285.6,902.7 C285.9,902 288.5,901 289.6,901.1 C290.6,901.2 292.2,902.8 292,903.5 C291.7,904.1 289,905.2 288,905.1 C286.9,904.9 285.3,903.3 285.6,902.7 Z"/>
<path d="M287.5,863.6 L288.5,902.7"/>
<path d="M299.9,889.9 L303.9,891.5 L303.9,926.6"/>
<path d="M248.2,931 C250.7,930.9 254.9,932.1 256.9,933.7 C258.9,935.4 260.4,938.5 260.1,940.9 C259.8,943.3 257.7,946.8 255.3,948.1 C252.9,949.4 248.3,949.7 245.8,948.9 C243.2,948.1 240.9,945.6 240.2,943.3 C239.5,941 240.5,936.9 241.8,934.9 C243.1,932.8 245.6,931.2 248.2,931 Z"/>
<path d="M245.8,936.9 C247,936 250.1,936.8 251.3,937.7 C252.5,938.7 253.5,941.2 252.9,942.5 C252.4,943.8 249.6,945.6 248.2,945.7 C246.7,945.8 244.6,944.8 244.2,943.3 C243.8,941.8 244.6,937.9 245.8,936.9 Z"/>
<path d="M256.9,935.3 L279.2,925.8 L281.6,927.4 L260.1,939.3"/>
<path d="M261.7,932.2 L263.3,937.7"/>
<path d="M265.8,930.5 L267.4,936.1"/>
<path d="M270,928.8 L271.6,934.4"/>
<path d="M274.1,927.2 L275.7,932.8"/>
<path d="M278.3,925.5 L279.9,931.1"/>
<circle cx="209.1" cy="827.8" r="0.9" fill="#141414"/>
<circle cx="215.5" cy="830.2" r="0.9" fill="#141414"/>
<circle cx="221.9" cy="832.6" r="0.9" fill="#141414"/>
<circle cx="228.2" cy="835" r="0.9" fill="#141414"/>
<circle cx="209.9" cy="833.4" r="0.9" fill="#141414"/>
<circle cx="216.3" cy="835.8" r="0.9" fill="#141414"/>
<circle cx="222.7" cy="838.2" r="0.9" fill="#141414"/>
<circle cx="228.2" cy="840.5" r="0.9" fill="#141414"/>
<g stroke-dasharray="11 5"><path d="M290.4,835 L345.8,853.3 L345.8,842.1"/></g>
<path d="M523.1,905.5 C525,903.4 528.6,902.3 530.6,902.2 C532.6,902.1 534.2,903.1 535.3,905 C536.4,906.9 537,910.5 537.2,913.4 C537.3,916.4 537.2,920.5 536.2,922.8 C535.3,925.1 533.4,926.7 531.6,927.5 C529.7,928.3 526.7,928.3 525,927.5 C523.3,926.7 522.2,925 521.2,922.8 C520.3,920.6 519.1,917.3 519.4,914.4 C519.7,911.5 521.2,907.5 523.1,905.5 Z"/>
<path d="M529.7,912 C530.5,911.9 533.7,911.2 534.8,911.6 C536,911.9 537.1,913.6 536.7,914.4 C536.3,915.1 533.5,915.3 532.5,916.2 C531.5,917.2 530.6,918.4 530.6,920 C530.6,921.6 532.8,924.7 532.5,925.6 C532.2,926.6 529.7,926.6 528.7,925.6 C527.8,924.7 527,921.9 526.9,920 C526.7,918.1 527.6,915.3 527.8,914.4"/>
<path d="M519.4,901.2 C517.9,900.9 512.8,898.8 510.5,898.9 C508.1,899 506.6,900.1 505.3,901.7 C504,903.4 503,906 502.5,908.7 C502,911.5 502,915.9 502.5,918.1 C503,920.3 504.2,921 505.8,921.9 C507.3,922.7 510.9,923 511.9,923.3"/>
<path d="M514.7,901.7 C514.4,902.3 513.3,903.4 512.8,905.5 C512.3,907.6 512,911.9 511.9,914.4 C511.7,916.8 511.7,918.3 511.9,920 C512,921.7 512.7,923.9 512.8,924.7"/>
<path d="M523.1,912 L524.1,914.4"/>
<path d="M522.2,920.5 L524.1,922.8"/>
<path d="M526.9,909.7 L530.6,908.3"/>
<path d="M590.3,929.1 C592.5,929.3 595.8,931.3 597.2,933.4 C598.6,935.5 599.2,939.1 598.7,941.9 C598.2,944.6 596.1,948.5 594,949.7 C592,950.9 588.5,950.3 586.5,949 C584.6,947.7 582.7,944.6 582.2,941.9 C581.8,939.1 582.4,934.6 583.7,932.5 C585.1,930.4 588,929 590.3,929.1 Z"/>
<path d="M581.8,929.7 C581.1,930.3 578,931.7 577.2,933.4 C576.3,935.1 575.8,938.1 576.6,940 C577.4,941.9 581,943.9 581.8,944.7"/>
<path d="M592.2,936.2 C591.5,936.1 589.3,934.7 588.4,935.3 C587.5,935.9 586.4,938.6 586.5,940 C586.7,941.4 588.3,943.3 589.3,943.7 C590.4,944.2 592.2,942.9 592.7,942.8"/>
<path d="M616,941.9 C615,941 612.1,937.2 610,936.6 C607.9,936 605,936.8 603.4,938.1 C601.8,939.5 600.4,942.3 600.2,944.7 C600.1,947 601,950.4 602.5,952.2 C603.9,953.9 607.1,955 609,955 C611,955 613.2,952.6 614.1,952.2"/>
<path d="M614.6,946.5 C613.9,945.9 611.2,943.1 610,942.8 C608.7,942.5 607.5,943.5 607.2,944.7 C606.8,945.8 607.3,948.7 608.1,949.7 C608.9,950.8 611.2,950.7 611.8,950.9"/>
<path d="M621.2,949.7 L638.1,953.1 L639,960.2 L622.1,957.2 L621.2,949.7"/>
<path d="M624,950.9 L625,957.6"/>
<path d="M627.4,951.4 L628.3,958.2"/>
<path d="M630.8,952 L631.7,958.7"/>
<path d="M634.1,952.5 L635.1,959.3"/>
<path d="M639.5,954.6 C648.2,957.1 680.7,965.6 692,969.6 C703.2,973.6 702.2,975.1 707,978.6 C711.7,982.1 716.2,987.4 720.4,990.6 C724.7,993.7 725.2,994.2 732.4,997.5 C739.7,1000.8 755.7,1008.4 763.9,1010.4 C772.2,1012.4 774.9,1008.5 781.9,1009.5 C788.9,1010.5 797.9,1013.7 805.9,1016.4 C813.9,1019 823.4,1022.8 829.9,1025.4 C836.4,1028 841.2,1029.6 844.9,1032 C848.7,1034.3 851,1036.2 852.4,1039.5 C853.8,1042.7 853.2,1049.5 853.3,1051.5"/>
<path d="M639.5,960 C648,962.5 679.8,971 690.5,975 C701.1,979 699.1,980.6 703.4,984 C707.6,987.4 711.6,992.1 716,995.4 C720.3,998.6 721.7,999.9 729.4,1003.5 C737.2,1007.1 753.7,1015 762.4,1017 C771.2,1019 774.9,1014.6 781.9,1015.5 C788.9,1016.4 796.7,1019.6 804.4,1022.4 C812.2,1025.1 822.2,1029.3 828.4,1032 C834.7,1034.7 838.9,1036.6 841.9,1038.6 C844.9,1040.6 845.9,1041.5 846.4,1044 C846.9,1046.5 845.2,1052 844.9,1053.6"/>
<path d="M844.9,1053.6 L853.3,1051.5"/>
<path d="M589.3,1037.5 C590.3,1036 592.8,1030.4 595,1029 C597.2,1027.6 600.4,1027.8 602.5,1029 C604.5,1030.3 606.4,1032.1 607.2,1036.5 C607.9,1040.9 607.2,1052.1 607.2,1055.3"/>
<path d="M607.2,1055.3 L604.7,1062.8 L595,1073.1 L583.7,1088.4 L578.1,1093.7 L575.8,1088.1 L581.8,1073.1 L589.7,1065.9 L589,1037.5"/>
<path d="M595,1035.6 C595.9,1033.1 599,1033.5 600.6,1034.1 C602.2,1034.7 604.1,1036.4 604.7,1039.3 C605.3,1042.2 605.3,1049.2 604.3,1051.5 C603.3,1053.9 600.3,1053.9 598.7,1053.4 C597.2,1052.9 595.6,1051.7 595,1048.7 C594.3,1045.7 594,1038 595,1035.6 Z"/>
<path d="M589.3,1065.6 L606.2,1058.1"/>
<path d="M580,1082.4 L602.5,1065.6"/>
<path d="M449.5,1149.4 L448.3,1210.3"/>
<path d="M454.4,1151.8 L454.4,1170.1"/>
<path d="M449,1149.4 C449.7,1148.3 450.6,1143.4 453.1,1142.6 C455.7,1141.8 461.5,1143 464.1,1144.5 C466.8,1146.1 468.2,1150.6 469,1151.8"/>
<path d="M469,1151.8 L518.9,1140.9 L527.5,1133.6 L589.6,1118.9"/>
<path d="M454.4,1170.8 L488.5,1161.6 L556.7,1149.4"/>
<path d="M518.9,1140.9 L519.7,1154.3 L525,1156.7 L556.7,1149.4"/>
<path d="M488.5,1162.8 L521.4,1156.7 L555.5,1153.1 L549.4,1159.1 L509.2,1170.1 L488.5,1162.8"/>
<path d="M487.1,1162.8 L508.7,1157.9 L520.5,1160.9 L506.8,1169.7 L487.1,1162.8"/>
<path d="M500.9,1163.8 C501.7,1163.5 504.5,1161.7 505.8,1161.8 C507.1,1161.9 508.2,1164 508.7,1164.4"/>
<path d="M526.3,1139.7 C526.9,1137.4 530.5,1134.8 532.3,1134.8 C534.2,1134.8 536.8,1137.6 537.2,1139.7 C537.6,1141.7 536.2,1145.5 534.8,1147 C533.4,1148.4 530.1,1149.4 528.7,1148.2 C527.3,1147 525.6,1141.9 526.3,1139.7 Z"/>
<path d="M547,1134.8 L551.8,1133.6 L551.8,1144.5 L547,1145.7 Z"/>
<path d="M561.6,1142.1 C562.3,1140.5 565.2,1138.6 567.7,1138.4 C570.1,1138.2 574.4,1139 576.2,1140.9 C578,1142.7 579.5,1147.7 578.6,1149.4 C577.8,1151.1 573.8,1151.6 571.3,1151.3 C568.8,1151.1 565.2,1149.7 563.5,1148.2 C561.9,1146.6 560.9,1143.7 561.6,1142.1 Z"/>
<path d="M572.5,1142.1 C573.8,1142.5 578.8,1143.1 579.9,1144.5 C580.9,1145.9 578.8,1149.6 578.6,1150.6"/>
<path d="M437.3,1191.3 L447.1,1179.1 L456.8,1176.7 L462.9,1188.4 L452.4,1196.2 L437.3,1191.3"/>
<path d="M445.8,1181.6 C447.2,1180.9 451.2,1181.7 452.4,1183 C453.6,1184.4 454,1188.2 453.1,1189.6 C452.3,1191 448.6,1191.7 447.1,1191.3 C445.6,1190.9 444.3,1188.8 444.1,1187.2 C443.9,1185.5 444.5,1182.3 445.8,1181.6 Z"/>
<path d="M447.1,1198.1 L447.5,1210.3 L455.6,1210.3 L455.1,1198.1"/>
<path d="M469,1168.9 C470.5,1167.5 475.7,1165.3 478.7,1165.5 C481.8,1165.7 487.3,1168.4 487.3,1170.1 C487.3,1171.8 481.7,1175.1 478.7,1175.7 C475.8,1176.3 471.1,1174.9 469.5,1173.8 C467.9,1172.6 467.4,1170.3 469,1168.9 Z"/>
<path d="M473.9,1188.4 L474.3,1198.1 L480,1198.1 L480,1188.4 Z"/>
<path d="M458,1186 L549.4,1198.1 L566.5,1205.9 L586,1200.6 L632.2,1212.3 L690,1223"/>
<path d="M462.9,1179.9 L472.6,1176.2 L547,1188.4 L551.8,1198.1"/>
<path d="M486,1162.8 L605.4,1182.3 L649.3,1196.2 L690,1201.1"/>
<path d="M508,1170.8 L600.6,1186"/>
<path d="M551.8,1198.1 L551.8,1188.4 L566.5,1183.5 L566.5,1205.4"/>
<path d="M573.8,1181.1 L573.8,1205.9"/>
<path d="M586,1200.6 L605.4,1186 L644.4,1198.1 L642,1210.3"/>
<path d="M644.4,1198.1 L690,1186"/>
<path d="M589.6,1118.9 L589.6,1151.8 L571.3,1156.7 L615.2,1176.2 L644.4,1166.5"/>
<path d="M595.7,1137.2 L673.7,1110.4 L690,1108"/>
<path d="M595.7,1144.5 L690,1117.7"/>
<path d="M610.3,1144.5 L610.3,1154.3 L690,1134.8"/>
<path d="M598.1,1114.1 L629.8,1108 L637.1,1101.9 L654.2,1103.1 L644.4,1112.8 L595.7,1125"/>
<path d="M649.3,1147 L690,1156.7"/>
<path d="M615.2,1176.2 L632.2,1156.7 L690,1166.5"/>
<path d="M644.4,1103.1 C644.5,1096.6 643.7,1072.8 644.9,1064.1 C646.1,1055.4 648.6,1053.4 651.7,1050.7 C654.9,1048.1 660.9,1047.7 663.9,1048.3 C667,1048.9 669,1045.2 670,1054.4 C671,1063.5 670,1095 670,1103.1"/>
<path d="M650.5,1103.1 C650.5,1097 649.5,1074.7 650.5,1066.6 C651.5,1058.4 654.4,1056.7 656.6,1054.4 C658.9,1052 662.7,1052.7 663.9,1052.4"/>
<path d="M659.1,1059.2 L672.5,1060.5 L672.5,1066.6 L659.1,1065.3 Z"/>
<path d="M659.1,1077.5 L672.5,1078.7 L672.5,1084.8 L659.1,1083.6 Z"/>
<path d="M551.8,1095.8 L589.6,1110.4 L589.6,1118.9"/>
<path d="M660,1100.9 L706.3,1094.8 L712.4,1099.7 L711.2,1105.8 L694.1,1113.1 L660,1118.5"/>
<path d="M660,1110.7 L689.2,1105.3 L710,1100.9"/>
<path d="M718.5,1108.7 C720.9,1105.9 730.7,1096.9 733.1,1091.7 C735.5,1086.4 732.2,1080 733.1,1077 C734,1074.1 736.4,1072.9 738.5,1074.1 C740.5,1075.3 743.5,1080.6 745.3,1084.3 C747,1088.1 748.5,1093 748.9,1096.5 C749.3,1100.1 750,1103 747.7,1105.8 C745.5,1108.6 737.6,1111.9 735.5,1113.1"/>
<path d="M722.1,1109.4 L740.4,1086.3"/>
<path d="M720.9,1132.6 C721.3,1130.4 724.6,1126.5 728.2,1124.8 C731.9,1123.1 738,1122.3 742.8,1122.4 C747.7,1122.4 754.5,1123.9 757.5,1125.3 C760.4,1126.7 760.6,1128.6 760.4,1130.6 C760.2,1132.7 759.6,1135.9 756.3,1137.5 C752.9,1139 745.5,1139.8 740.4,1139.9 C735.3,1140 729,1139.2 725.8,1138 C722.5,1136.7 720.5,1134.8 720.9,1132.6 Z"/>
<path d="M721.4,1133.8 C722.3,1136 723.4,1144.3 727,1147.2 C730.6,1150.1 738,1151 742.8,1151.1 C747.7,1151.2 753.4,1151.1 756.3,1147.7 C759.1,1144.3 759.3,1133.5 759.9,1130.6"/>
<path d="M731.2,1129.7 C731.3,1129 735,1127.7 736.8,1127.7 C738.5,1127.7 741.8,1129 741.6,1129.7 C741.5,1130.3 737.8,1131.6 736,1131.6 C734.3,1131.6 731,1130.3 731.2,1129.7 Z"/>
<path d="M711.7,1135.5 L720.9,1133.8"/>
<path d="M711.2,1137.5 L712.4,1149.7 L725.8,1147.2"/>
<path d="M660,1123.3 L691.7,1113.6 L740.4,1118.5 L762.3,1124.8 L796.5,1138.7"/>
<path d="M750.2,1140.4 L808.6,1155"/>
<path d="M762.3,1137.5 L818.4,1152.1"/>
<path d="M724.6,1193.5 L742.8,1176.5 L767.2,1169.1 L796.5,1158.9 L837.9,1148.4 L847.6,1149.7 L850.6,1154.5 L845.2,1159.9 L796.5,1169.1 L769.7,1177.9 L745.3,1185.2 L733.1,1196"/>
<path d="M762.3,1198.9 L806.2,1181.8 L854.9,1159.9 L867.6,1153.6"/>
<path d="M764.8,1172.8 L767.2,1189.1"/>
<path d="M789.1,1161.3 L792.8,1176.9"/>
<path d="M720.9,1201.3 L738,1196 L757.5,1198.4 L762.3,1206.2 L762.3,1227.6 L742.8,1237.9 L738,1215.9 L720.9,1210.6"/>
<path d="M738,1215.9 L762.3,1206.2"/>
<path d="M660,1198.9 L738,1237.9"/>
<path d="M660,1210.6 L716,1227.6"/>
<path d="M703.9,1210.6 L711.2,1205.7 L718.5,1215.4 L713.6,1225.2"/>
<path d="M744.1,1237.9 L744.1,1247.6 L749.7,1247.6 L749.7,1237.9"/>
<path d="M796.5,1138.7 L825.7,1120.4 L825.7,1103.8 L835.4,1099.9 L867.1,1102.4 L867.6,1113.1 L862.2,1116 L862.2,1135.5 L867.6,1137 L867.6,1153.6"/>
<path d="M835.4,1099.9 L835.4,1123.3"/>
<path d="M835.4,1113.1 L859.8,1117 L859.8,1135.5"/>
<path d="M811.1,1142.3 L862.2,1135.5"/>
<path d="M867.6,1118 L879.3,1118.5 L882.2,1123.3 L898.8,1124.3 L900,1130.6 L897.6,1133.1 L880.5,1130.6 L874.4,1133.1 L867.6,1133.8"/>
<path d="M660,1154.5 L681.9,1157 L711.2,1142.3"/>
<path d="M684.4,1159.4 L689.2,1167.2 L660,1176.5"/>
<path d="M689.2,1171.6 L740.4,1171.6 L723.4,1191.1"/>
<path d="M660,1186.7 L689.2,1176.9"/>
<path d="M691.7,1171.6 L674.6,1161.8 L711.2,1149.7 L796.5,1169.1"/>
<path d="M477.8,1222.8 C481.8,1222.8 487.6,1223.9 490,1225.6 C492.3,1227.3 493.9,1230.9 491.9,1233.1 C489.8,1235.3 482.3,1238.6 477.8,1238.7 C473.3,1238.9 466.6,1236.2 464.7,1234 C462.7,1231.9 463.8,1227.5 466,1225.6 C468.2,1223.7 473.8,1222.8 477.8,1222.8 Z"/>
<path d="M465.2,1231.2 L465.6,1238.7 L477.8,1242.5 L490.9,1238.7 L491.5,1232.2"/>
<path d="M474,1226.5 C475,1226.4 478.4,1225.3 479.7,1225.6 C480.9,1225.9 481.2,1227.9 481.5,1228.4"/>
<path d="M467.5,1240.6 L468.4,1250 L476.9,1252.8 L487.2,1250 L487.2,1240.6"/>
<path d="M462.8,1250 C465.3,1249.5 472.5,1247.1 477.8,1247.2 C483.1,1247.2 491.5,1248 494.7,1250.3 C497.8,1252.7 497,1257.8 496.5,1261.2 C496.1,1264.6 495,1268.7 491.9,1270.6 C488.7,1272.5 482.5,1272.5 477.8,1272.5 C473.1,1272.5 466.7,1272.5 463.7,1270.6 C460.8,1268.7 460.1,1264.7 460,1261.2 C459.8,1257.8 462.3,1251.8 462.8,1250 C463.3,1248.1 460.3,1250.4 462.8,1250 Z"/>
<path d="M460.9,1255.6 C463.7,1256.4 471.9,1260.3 477.8,1260.3 C483.7,1260.3 493.4,1256.4 496.5,1255.6"/>
<path d="M460.9,1260.3 C463.7,1261.1 471.9,1265 477.8,1265 C483.7,1265 493.4,1261.1 496.5,1260.3"/>
<path d="M461.9,1265 C464.5,1265.7 472.2,1269.1 477.8,1269.1 C483.4,1269.1 492.6,1265.7 495.6,1265"/>
<path d="M472.2,1223.7 L472.2,1238.7"/>
<path d="M484.4,1223.7 L484.4,1238.7"/>
<path d="M468.4,1270.6 L469.7,1279 L476.9,1280.9 L486.2,1278.1 L486.2,1270.6"/>
<path d="M746.2,1266.2 C748.8,1266.2 752.8,1267 754.2,1268.6 C755.6,1270.1 756.2,1274.1 754.9,1275.6 C753.5,1277.1 748.9,1277.7 746.2,1277.7 C743.6,1277.7 740.2,1277.1 738.9,1275.6 C737.7,1274.1 737.5,1270.1 738.7,1268.6 C740,1267 743.7,1266.2 746.2,1266.2 Z"/>
<path d="M742.5,1267.6 L742.5,1277"/>
<path d="M750.9,1267.6 L750.9,1277"/>
<path d="M734,1274.7 C736.1,1275.4 742,1279.4 746.2,1279.4 C750.4,1279.4 757,1274.2 759.4,1274.7 C761.7,1275.1 762.3,1280.3 760.1,1282.2 C757.9,1284 750.7,1285.9 746.2,1285.9 C741.8,1285.9 735.3,1284 733.3,1282.2 C731.3,1280.3 733.9,1275.9 734,1274.7 C734.2,1273.4 732,1273.9 734,1274.7 Z"/>
<path d="M734,1279.4 C736.1,1280 741.9,1283.1 746.2,1283.1 C750.5,1283.1 757.6,1280 759.8,1279.4"/>
<path d="M729.4,1287.8 C732.2,1288.4 740.5,1291.5 746.2,1291.5 C752,1291.5 760.8,1287.3 764,1287.8 C767.2,1288.3 765.3,1291.7 765.4,1294.3 C765.6,1297 768.4,1301.5 765.2,1303.7 C762,1305.9 752.4,1307.7 746.2,1307.7 C740.1,1307.7 731.3,1305.9 728.2,1303.7 C725.2,1301.5 727.8,1297 728,1294.3 C728.1,1291.7 729.1,1288.9 729.4,1287.8 C729.6,1286.7 726.6,1287.2 729.4,1287.8 Z"/>
<path d="M728.4,1292.5 C731.4,1293 740.1,1295.8 746.2,1295.8 C752.3,1295.8 761.9,1293 765,1292.5"/>
<path d="M728.4,1296.7 C731.4,1297.3 740.1,1300.2 746.2,1300.2 C752.4,1300.2 762.2,1297.3 765.4,1296.7"/>
<path d="M729.2,1300.4 C732,1301 740.3,1303.9 746.2,1303.9 C752.2,1303.9 761.9,1301 765,1300.4"/>
<path d="M735.2,1305.6 L735.6,1311.7 L746.2,1314.2 L759.8,1311.7 L760.3,1305.6"/>
<path d="M741.5,1315 C742.6,1314.2 745.8,1313.7 748.1,1313.8 C750.4,1314 754.5,1314.9 755.6,1315.9 C756.7,1316.9 756.1,1318.8 754.9,1319.7 C753.6,1320.5 750.3,1320.9 748.1,1320.8 C745.9,1320.6 742.6,1319.7 741.5,1318.7 C740.5,1317.7 740.5,1315.8 741.5,1315 Z"/>
<path d="M742,1236.2 L742,1247 L750,1247 L750,1235.8"/>
<path d="M744.4,1239.1 L747.6,1238.6"/>
<path d="M744.4,1242.8 L747.6,1242.3"/>
<path d="M519.4,901.2 C521.6,899.4 525.2,898 527.8,897.5 C530.4,897 533,897 534.8,898.4 C536.7,899.9 538.1,903.1 539,906.4 C540,909.7 540.8,914.6 540.5,918.1 C540.1,921.6 539.1,925 537.2,927.5 C535.2,930 531.4,932 528.7,933.1 C526.1,934.2 523.6,934.6 521.2,934 C518.9,933.5 516.2,932.1 514.7,929.8 C513.2,927.6 512.3,924 512.3,920.5 C512.3,916.9 513.5,911.9 514.7,908.7 C515.9,905.5 517.2,903.1 519.4,901.2 Z" stroke-width="3.4"/>
<path d="M517.5,905 C517.3,906.6 516.1,910.9 516.1,914.4 C516.1,917.8 516.6,922.8 517.5,925.6 C518.4,928.4 520.6,930.3 521.2,931.2" stroke-width="3.5" stroke-dasharray="3 2.5"/>
<path d="M506.7,904.1 C506.3,905.5 504.5,909.8 504.4,912.5 C504.3,915.1 505.9,918.7 506.2,920" stroke-width="3.5" stroke-dasharray="3 2.5"/>
<g stroke-dasharray="11 5"><path d="M569.7,930.6 L552.8,927.2 L551.9,1086.2"/>
<path d="M551.8,1030 L551.8,1095.8"/>
<path d="M477.8,1200.3 L477.8,1216.2"/>
<path d="M451.6,1212.5 L452.1,1295"/></g>
<path d="M205.8,1275.7 C205.6,1272.6 204.2,1261.6 204.9,1257.2 C205.7,1252.7 207.9,1250.4 210.4,1249 C212.9,1247.7 215.7,1247.8 219.9,1249 C224.1,1250.2 233,1254.9 235.7,1256.1"/>
<path d="M212.3,1276.2 C212.4,1273.6 212,1263.6 212.8,1260.4 C213.6,1257.3 213.7,1256.7 217.2,1257.2 C220.6,1257.6 230.8,1262.2 233.5,1263.2"/>
<path d="M205.8,1275.7 L212.3,1276.2"/>
<path d="M235.7,1256.1 L260.1,1263.2 L257.9,1279.5 L232.9,1270.8 L235.7,1256.1"/>
<path d="M260.1,1263.2 C261.6,1263.7 267.8,1263.8 268.8,1266.7 C269.8,1269.5 267.9,1278.2 266.1,1280.3 C264.3,1282.4 259.3,1279.6 257.9,1279.5"/>
<path d="M267.5,1268.6 L291.1,1279.5"/>
<path d="M266.1,1277.8 L288.4,1287.1"/>
<path d="M296.5,1281.6 L325.9,1294.7"/>
<path d="M294.6,1290.3 L323.7,1301.2"/>
<path d="M325.9,1294.7 L342.2,1301.2 L338.1,1319.7 L323.7,1311.5 L325.9,1294.7"/>
<path d="M342.2,1301.2 C344.2,1302.5 352.8,1305.5 354.4,1308.8 C356,1312.1 354.4,1319.2 351.7,1321 C349,1322.9 340.4,1319.9 338.1,1319.7"/>
<path d="M354.4,1311 C358.7,1313.9 373.2,1323.9 380.3,1328.4 C387.3,1332.9 390.2,1337.3 396.6,1338.2 C402.9,1339.1 414.7,1334.5 418.3,1333.8"/>
<path d="M348.2,1320.2 C353.1,1323.4 369.5,1334.7 377.5,1339.3 C385.6,1343.8 389.3,1347 396.6,1347.4 C403.8,1347.9 416.9,1342.9 421,1342"/>
<path d="M418.3,1330 L436,1323 L442.8,1337.4 L422.4,1342.8 L418.3,1330"/>
<path d="M442.8,1303.4 C444.1,1301.8 449.1,1299.5 452.3,1299.3 C455.4,1299.1 460,1300.7 461.8,1302 C463.6,1303.4 464.5,1306 463.1,1307.5 C461.8,1309 456.8,1310.8 453.6,1311 C450.5,1311.2 445.9,1310.1 444.1,1308.8 C442.3,1307.6 441.4,1305 442.8,1303.4 Z"/>
<path d="M448.7,1302.8 C448.8,1302 452.1,1301 453.6,1301.2 C455.1,1301.4 457.8,1303.1 457.7,1303.9 C457.6,1304.7 454.6,1306.3 453.1,1306.1 C451.6,1305.9 448.7,1303.7 448.7,1302.8 Z"/>
<path d="M442.8,1307.5 C442.5,1310 442.5,1319.8 441.4,1322.4 C440.3,1325 436.9,1322.9 436,1323"/>
<path d="M463.1,1307.5 C463.1,1309.5 464.1,1315.7 463.1,1319.7 C462.2,1323.6 460.4,1328 457.7,1331.1 C455,1334.2 449.3,1337.1 446.8,1338.2 C444.4,1339.2 443.4,1337.5 442.8,1337.4"/>
<path d="M441.4,1322.4 C442.5,1322.6 446.4,1322.2 448.2,1323.8 C450,1325.4 452.5,1329.5 452.3,1331.9 C452.1,1334.3 447.7,1337.1 446.8,1338.2"/>
<path d="M193.1,1497.8 C193.8,1494.7 194.3,1493.9 195.9,1492.6 C197.5,1491.4 183.9,1498.8 202.9,1490.3 C222,1481.8 292.1,1450.7 310.2,1441.6 C328.4,1432.4 310.2,1436.3 311.6,1435.5 C313.1,1434.6 316.7,1435.4 318.7,1436.4 C320.6,1437.4 322.8,1439.1 323.4,1441.6 C323.9,1444 324.8,1444 322,1450.9 C319.1,1457.9 310.3,1476.6 306,1483.3 C301.7,1489.9 311.9,1483.7 296.2,1490.8 C280.5,1497.9 227.1,1519.7 211.8,1525.9 C196.6,1532.2 207.2,1528.6 204.8,1528.2 C202.5,1527.9 199.9,1526.4 197.8,1523.6 C195.6,1520.7 192.7,1515.7 191.9,1511.4 C191.1,1507.1 192.4,1500.9 193.1,1497.8 Z"/>
<path d="M202,1499.2 C220.3,1489.5 289.1,1456.6 307.9,1447.6 C326.7,1438.7 315.9,1440.1 314.9,1445.8 C314,1451.4 319.2,1469 302,1481.4 C284.9,1493.8 228,1513.7 211.8,1520.3 C195.6,1526.8 206.9,1521.8 204.8,1520.7 C202.7,1519.7 200.3,1516.3 199.2,1513.7 C198.1,1511.2 197.8,1507.9 198.2,1505.5 C198.7,1503.1 183.7,1508.8 202,1499.2 Z"/>
<path d="M202.9,1495.4 L311.6,1445.3"/>
<path d="M232.9,1497.3 L236.4,1510.2"/>
<path d="M272.8,1476.2 L276.3,1491.5"/>
<path d="M237.6,1495.4 L241.1,1508.3"/>
<path d="M277.9,1473.9 L281.4,1489.1"/>
<path d="M242.3,1493.6 L245.8,1506.5"/>
<path d="M283.1,1471.5 L286.6,1486.8"/>
<path d="M247,1491.7 L250.5,1504.6"/>
<path d="M288.2,1469.2 L291.7,1484.4"/>
<path d="M251.7,1489.8 L255.2,1502.7"/>
<path d="M293.4,1466.9 L296.9,1482.1"/>
<path d="M230.6,1499.7 L256.4,1490.3"/>
<path d="M270.4,1478.6 L296.2,1468"/>
<path d="M230.6,1504.3 L256.4,1495"/>
<path d="M270.4,1483.7 L296.2,1473.2"/>
<path d="M230.6,1509 L256.4,1499.7"/>
<path d="M270.4,1488.9 L296.2,1478.3"/>
<path d="M221.2,1505.5 L232.9,1502"/>
<path d="M216.5,1512.5 L230.6,1508.6"/>
<path d="M263.4,1490.3 L275.1,1485.6"/>
<path d="M251.7,1450.5 L268.1,1447.6 L269.2,1464 L257.5,1465.9 L251.7,1459.4 Z"/>
<path d="M268.1,1447.6 C270.8,1447.3 280.6,1445 284.5,1445.3 C288.3,1445.6 290.2,1447.3 291,1449.3 C291.9,1451.3 291.9,1455.5 289.6,1457.5 C287.4,1459.5 280.8,1460.1 277.4,1461.2 C274,1462.3 270.6,1463.6 269.2,1464"/>
<path d="M284.5,1445.3 C285.1,1444.9 286.4,1443.1 288,1443 C289.5,1442.8 292.5,1443.5 293.8,1444.6 C295.2,1445.7 296.7,1448.5 296.2,1449.3 C295.7,1450.1 291.9,1449.3 291,1449.3"/>
<path d="M218.9,1486.1 C219.2,1485.3 219.4,1482.2 220.7,1481.4 C222.1,1480.6 225.8,1480.8 227.1,1481.4 C228.3,1482 228,1484.5 228.2,1485.1"/>
<path d="M194.5,1496.1 C194.7,1495.4 194.6,1492.2 195.9,1491.5 C197.2,1490.7 201.1,1490.9 202.5,1491.5 C203.8,1492 203.6,1494.4 203.9,1495"/>
<path d="M108.7,1455.6 L120.5,1454.7 L131.7,1449.5 L139.2,1451.6 L155.6,1453.3 L160.3,1461 L158.4,1470.4 L135.7,1472.7 L128.7,1468 L122.8,1463.3 L109.9,1462.6 L108.7,1455.6"/>
<path d="M122.8,1455.1 L124,1463.3"/>
<path d="M132.2,1450.5 L134.5,1472"/>
<path d="M143.9,1452.3 L143.9,1470.4"/>
<path d="M125.1,1461 L157.9,1461"/>
<path d="M134.5,1466.9 L157.9,1465.7"/>
<path d="M182.5,1455.1 C185.9,1453.6 196.2,1453 200.1,1454 C204,1455 205.6,1458.4 206,1461 C206.4,1463.6 206.2,1468.1 202.5,1469.7 C198.8,1471.2 187.4,1471.4 183.7,1470.4 C180,1469.3 180.4,1465.9 180.2,1463.3 C180,1460.8 179.2,1456.7 182.5,1455.1 Z"/>
<path d="M169.2,1459.4 L181.4,1457.5 L181.4,1465.7 L169.7,1464 L169.2,1459.4"/>
<path d="M186.1,1461 L196.6,1460.3"/>
<path d="M186.1,1465.7 L197.8,1465"/>

<g stroke-dasharray="11 5"></g>
</g>
<defs>
<clipPath id="lc"><circle cx="967" cy="1499.5" r="99.5"/></clipPath>
<path id="arc1" d="M906,1444 Q968,1421 1030,1444"/>
</defs>
<g clip-path="url(#lc)">
<rect x="860" y="1395" width="210" height="210" fill="#c48c8c"/>
<path d="M860,1400 H1070 V1450 L990,1425 L900,1440 L860,1470 Z" fill="#cc9a9a" opacity="0.8"/>
<path d="M860,1500 L905,1490 L905,1540 L960,1600 H860 Z" fill="#b27878" opacity="0.85"/>
<path d="M905,1560 L968,1600 L1040,1560 L1070,1560 V1605 H900 Z" fill="#b07070" opacity="0.8"/>
<path d="M1029,1470 L1070,1455 V1540 L1029,1560 Z" fill="#d6a4a4" opacity="0.8"/>
<path d="M868,1510 L900,1520 M872,1530 L902,1545 M1035,1500 L1066,1490 M1035,1525 L1066,1515" stroke="#a86868" stroke-width="2" fill="none" opacity="0.6"/>
</g>
<path d="M905,1431 Q968,1408 1029,1431 L1029,1505 C1029,1540 1005,1565 968,1584 C931,1565 905,1540 905,1505 Z" fill="#6e7276"/>
<path d="M909,1451 Q968,1436 1025,1451 L1025,1505 C1025,1537 1002,1560 968,1578 C934,1560 909,1537 909,1505 Z" fill="#d8d6bd"/>
<rect x="950" y="1440" width="33" height="24" fill="#c24b50"/>
<path d="M950,1543 H984 V1577 L968,1582 L950,1577 Z" fill="#c24b50"/>
<path fill-rule="evenodd" fill="#6a6f74" stroke="#d8d6bd" stroke-width="1.2" d="M921,1459 H954 Q969,1459 969,1476 V1506 Q969,1523 954,1523 H921 Z M934,1472 V1510 H952 Q955,1510 955,1506 V1476 Q955,1472 952,1472 Z"/>
<path fill="#6a6f74" stroke="#d8d6bd" stroke-width="1.2" d="M985,1459 H1015 V1483 H1000 V1473 H987 Q984,1473 984,1476 V1506 Q984,1510 987,1510 H1000 V1498 H1015 V1523 H985 Q970,1523 970,1506 V1476 Q970,1459 985,1459 Z"/>
<g fill="none" stroke="#6a6f74" stroke-width="1.9">
<path d="M926,1538 L936,1528 L946,1538 M930,1534 H942"/>
<path d="M950,1528 V1535 Q950,1538 954,1538 H962 Q966,1538 966,1535 V1528"/>
<path d="M968,1528 H988 M978,1528 V1538"/>
<path d="M994,1528 H1010 Q1012,1528 1012,1531 V1535 Q1012,1538 1010,1538 H994 Q991,1538 991,1535 V1531 Q991,1528 994,1528 Z"/>
</g>
<text font-family="Liberation Sans" font-weight="bold" font-size="16.5" fill="#f4f4f4" style="font-size:16.5px;fill:#f4f4f4;font-weight:bold;letter-spacing:-0.3px;stroke:#f4f4f4;stroke-width:0.7px"><textPath href="#arc1" startOffset="50%" text-anchor="middle">DCAUTO.COM</textPath></text>

</svg></body></html>
